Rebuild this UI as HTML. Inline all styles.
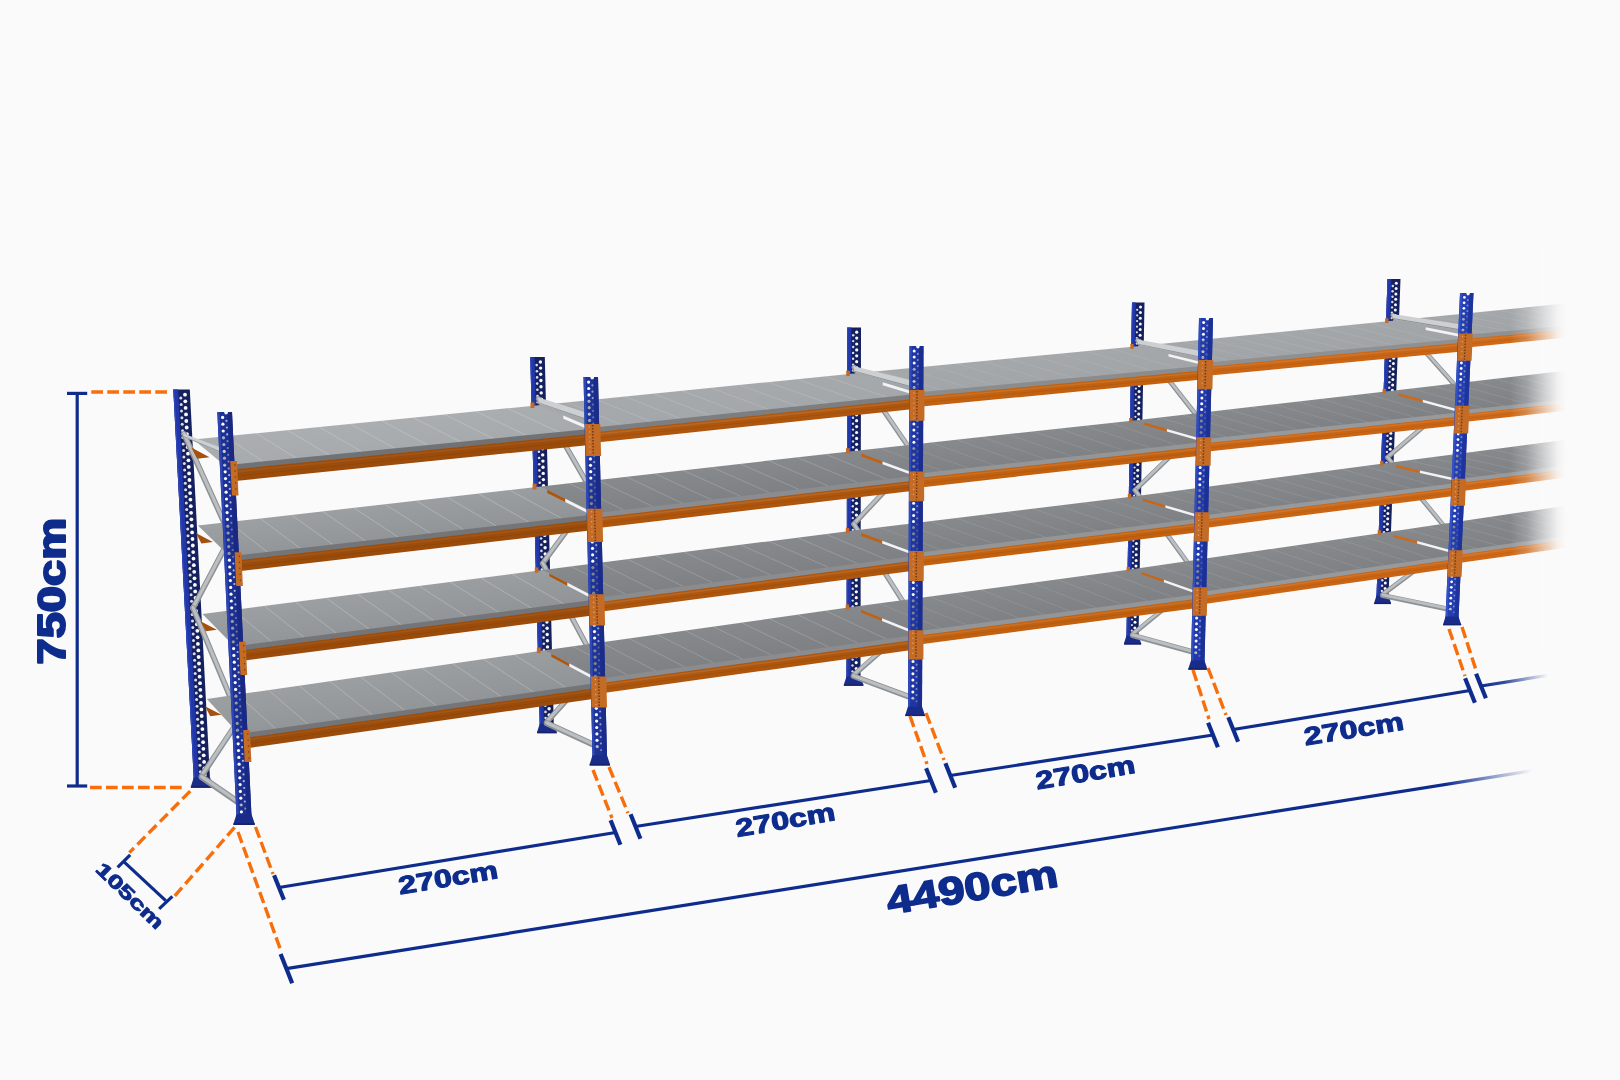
<!DOCTYPE html>
<html><head><meta charset="utf-8"><style>html,body{margin:0;padding:0;background:#fafafa;overflow:hidden}svg{display:block}</style></head>
<body><svg width="1620" height="1080" viewBox="0 0 1620 1080"><defs>
<linearGradient id="fadeR" x1="0" y1="0" x2="1" y2="0">
 <stop offset="0" stop-color="#fafafa" stop-opacity="0"/>
 <stop offset="0.3" stop-color="#fafafa" stop-opacity="0.22"/>
 <stop offset="0.6" stop-color="#fafafa" stop-opacity="0.62"/>
 <stop offset="0.85" stop-color="#fafafa" stop-opacity="0.92"/>
 <stop offset="1" stop-color="#fafafa" stop-opacity="1"/>
</linearGradient>
<linearGradient id="beamG" x1="0" y1="0" x2="0" y2="1">
 <stop offset="0" stop-color="#b05a10"/>
 <stop offset="0.5" stop-color="#a6520c"/>
 <stop offset="1" stop-color="#984a0a"/>
</linearGradient>
<linearGradient id="sh0_0" x1="0" y1="0" x2="0.75" y2="1"><stop offset="0" stop-color="#b0b3b6"/><stop offset="1" stop-color="#a3a6a9"/></linearGradient><linearGradient id="sh0_1" x1="0" y1="0" x2="0.75" y2="1"><stop offset="0" stop-color="#a8abae"/><stop offset="1" stop-color="#888b8e"/></linearGradient><linearGradient id="sh0_2" x1="0" y1="0" x2="0.75" y2="1"><stop offset="0" stop-color="#a8abae"/><stop offset="1" stop-color="#888b8e"/></linearGradient><linearGradient id="sh0_3" x1="0" y1="0" x2="0.75" y2="1"><stop offset="0" stop-color="#a8abae"/><stop offset="1" stop-color="#888b8e"/></linearGradient><linearGradient id="sh1_0" x1="0" y1="0" x2="0.75" y2="1"><stop offset="0" stop-color="#a9acaf"/><stop offset="1" stop-color="#a2a5a8"/></linearGradient><linearGradient id="sh1_1" x1="0" y1="0" x2="0.75" y2="1"><stop offset="0" stop-color="#919497"/><stop offset="1" stop-color="#76787b"/></linearGradient><linearGradient id="sh1_2" x1="0" y1="0" x2="0.75" y2="1"><stop offset="0" stop-color="#919497"/><stop offset="1" stop-color="#76787b"/></linearGradient><linearGradient id="sh1_3" x1="0" y1="0" x2="0.75" y2="1"><stop offset="0" stop-color="#919497"/><stop offset="1" stop-color="#76787b"/></linearGradient><linearGradient id="sh2_0" x1="0" y1="0" x2="0.75" y2="1"><stop offset="0" stop-color="#a8abae"/><stop offset="1" stop-color="#a0a3a6"/></linearGradient><linearGradient id="sh2_1" x1="0" y1="0" x2="0.75" y2="1"><stop offset="0" stop-color="#909396"/><stop offset="1" stop-color="#77797c"/></linearGradient><linearGradient id="sh2_2" x1="0" y1="0" x2="0.75" y2="1"><stop offset="0" stop-color="#909396"/><stop offset="1" stop-color="#77797c"/></linearGradient><linearGradient id="sh2_3" x1="0" y1="0" x2="0.75" y2="1"><stop offset="0" stop-color="#909396"/><stop offset="1" stop-color="#77797c"/></linearGradient><linearGradient id="sh3_0" x1="0" y1="0" x2="0.75" y2="1"><stop offset="0" stop-color="#a7aaad"/><stop offset="1" stop-color="#9fa2a5"/></linearGradient><linearGradient id="sh3_1" x1="0" y1="0" x2="0.75" y2="1"><stop offset="0" stop-color="#8f9295"/><stop offset="1" stop-color="#787a7d"/></linearGradient><linearGradient id="sh3_2" x1="0" y1="0" x2="0.75" y2="1"><stop offset="0" stop-color="#8f9295"/><stop offset="1" stop-color="#787a7d"/></linearGradient><linearGradient id="sh3_3" x1="0" y1="0" x2="0.75" y2="1"><stop offset="0" stop-color="#8f9295"/><stop offset="1" stop-color="#787a7d"/></linearGradient><linearGradient id="sh4_0" x1="0" y1="0" x2="0.75" y2="1"><stop offset="0" stop-color="#a7aaad"/><stop offset="1" stop-color="#9fa2a5"/></linearGradient><linearGradient id="sh4_1" x1="0" y1="0" x2="0.75" y2="1"><stop offset="0" stop-color="#8f9295"/><stop offset="1" stop-color="#787a7d"/></linearGradient><linearGradient id="sh4_2" x1="0" y1="0" x2="0.75" y2="1"><stop offset="0" stop-color="#8f9295"/><stop offset="1" stop-color="#787a7d"/></linearGradient><linearGradient id="sh4_3" x1="0" y1="0" x2="0.75" y2="1"><stop offset="0" stop-color="#8f9295"/><stop offset="1" stop-color="#787a7d"/></linearGradient><mask id="mback" maskUnits="userSpaceOnUse" x="0" y="0" width="1620" height="1080"><rect width="1620" height="1080" fill="#fff"/><circle cx="185" cy="394.7" r="1.9" fill="#000"/><circle cx="180.8" cy="398" r="1.5" fill="#222"/><circle cx="185.3" cy="401.3" r="1.9" fill="#000"/><circle cx="181.2" cy="404.6" r="1.5" fill="#222"/><circle cx="185.6" cy="407.9" r="1.9" fill="#000"/><circle cx="181.5" cy="411.1" r="1.5" fill="#222"/><circle cx="186" cy="414.4" r="1.9" fill="#000"/><circle cx="181.9" cy="417.7" r="1.5" fill="#222"/><circle cx="186.3" cy="421" r="1.9" fill="#000"/><circle cx="182.2" cy="424.2" r="1.5" fill="#222"/><circle cx="186.7" cy="427.5" r="1.9" fill="#000"/><circle cx="182.6" cy="430.8" r="1.5" fill="#222"/><circle cx="187" cy="434.1" r="1.9" fill="#000"/><circle cx="182.9" cy="437.4" r="1.5" fill="#222"/><circle cx="187.3" cy="440.6" r="1.9" fill="#000"/><circle cx="183.2" cy="443.9" r="1.5" fill="#222"/><circle cx="187.7" cy="447.2" r="1.9" fill="#000"/><circle cx="183.6" cy="450.5" r="1.5" fill="#222"/><circle cx="188" cy="453.7" r="1.9" fill="#000"/><circle cx="183.9" cy="457" r="1.5" fill="#222"/><circle cx="188.4" cy="460.3" r="1.9" fill="#000"/><circle cx="184.3" cy="463.6" r="1.5" fill="#222"/><circle cx="188.7" cy="466.9" r="1.9" fill="#000"/><circle cx="184.6" cy="470.1" r="1.5" fill="#222"/><circle cx="189.1" cy="473.4" r="1.9" fill="#000"/><circle cx="185" cy="476.7" r="1.5" fill="#222"/><circle cx="189.4" cy="480" r="1.9" fill="#000"/><circle cx="185.3" cy="483.2" r="1.5" fill="#222"/><circle cx="189.7" cy="486.5" r="1.9" fill="#000"/><circle cx="185.6" cy="489.8" r="1.5" fill="#222"/><circle cx="190.1" cy="493.1" r="1.9" fill="#000"/><circle cx="186" cy="496.4" r="1.5" fill="#222"/><circle cx="190.4" cy="499.6" r="1.9" fill="#000"/><circle cx="186.3" cy="502.9" r="1.5" fill="#222"/><circle cx="190.8" cy="506.2" r="1.9" fill="#000"/><circle cx="186.7" cy="509.5" r="1.5" fill="#222"/><circle cx="191.1" cy="512.8" r="1.9" fill="#000"/><circle cx="187" cy="516" r="1.5" fill="#222"/><circle cx="191.4" cy="519.3" r="1.9" fill="#000"/><circle cx="187.4" cy="522.6" r="1.5" fill="#222"/><circle cx="191.8" cy="525.9" r="1.9" fill="#000"/><circle cx="187.7" cy="529.1" r="1.5" fill="#222"/><circle cx="192.1" cy="532.4" r="1.9" fill="#000"/><circle cx="188" cy="535.7" r="1.5" fill="#222"/><circle cx="192.5" cy="539" r="1.9" fill="#000"/><circle cx="188.4" cy="542.3" r="1.5" fill="#222"/><circle cx="192.8" cy="545.5" r="1.9" fill="#000"/><circle cx="188.7" cy="548.8" r="1.5" fill="#222"/><circle cx="193.2" cy="552.1" r="1.9" fill="#000"/><circle cx="189.1" cy="555.4" r="1.5" fill="#222"/><circle cx="193.5" cy="558.6" r="1.9" fill="#000"/><circle cx="189.4" cy="561.9" r="1.5" fill="#222"/><circle cx="193.8" cy="565.2" r="1.9" fill="#000"/><circle cx="189.8" cy="568.5" r="1.5" fill="#222"/><circle cx="194.2" cy="571.8" r="1.9" fill="#000"/><circle cx="190.1" cy="575" r="1.5" fill="#222"/><circle cx="194.5" cy="578.3" r="1.9" fill="#000"/><circle cx="190.4" cy="581.6" r="1.5" fill="#222"/><circle cx="194.9" cy="584.9" r="1.9" fill="#000"/><circle cx="190.8" cy="588.1" r="1.5" fill="#222"/><circle cx="195.2" cy="591.4" r="1.9" fill="#000"/><circle cx="191.1" cy="594.7" r="1.5" fill="#222"/><circle cx="195.5" cy="598" r="1.9" fill="#000"/><circle cx="191.5" cy="601.3" r="1.5" fill="#222"/><circle cx="195.9" cy="604.5" r="1.9" fill="#000"/><circle cx="191.8" cy="607.8" r="1.5" fill="#222"/><circle cx="196.2" cy="611.1" r="1.9" fill="#000"/><circle cx="192.2" cy="614.4" r="1.5" fill="#222"/><circle cx="196.6" cy="617.6" r="1.9" fill="#000"/><circle cx="192.5" cy="620.9" r="1.5" fill="#222"/><circle cx="196.9" cy="624.2" r="1.9" fill="#000"/><circle cx="192.8" cy="627.5" r="1.5" fill="#222"/><circle cx="197.3" cy="630.8" r="1.9" fill="#000"/><circle cx="193.2" cy="634" r="1.5" fill="#222"/><circle cx="197.6" cy="637.3" r="1.9" fill="#000"/><circle cx="193.5" cy="640.6" r="1.5" fill="#222"/><circle cx="197.9" cy="643.9" r="1.9" fill="#000"/><circle cx="193.9" cy="647.1" r="1.5" fill="#222"/><circle cx="198.3" cy="650.4" r="1.9" fill="#000"/><circle cx="194.2" cy="653.7" r="1.5" fill="#222"/><circle cx="198.6" cy="657" r="1.9" fill="#000"/><circle cx="194.6" cy="660.3" r="1.5" fill="#222"/><circle cx="199" cy="663.5" r="1.9" fill="#000"/><circle cx="194.9" cy="666.8" r="1.5" fill="#222"/><circle cx="199.3" cy="670.1" r="1.9" fill="#000"/><circle cx="195.2" cy="673.4" r="1.5" fill="#222"/><circle cx="199.6" cy="676.7" r="1.9" fill="#000"/><circle cx="195.6" cy="679.9" r="1.5" fill="#222"/><circle cx="200" cy="683.2" r="1.9" fill="#000"/><circle cx="195.9" cy="686.5" r="1.5" fill="#222"/><circle cx="200.3" cy="689.8" r="1.9" fill="#000"/><circle cx="196.3" cy="693" r="1.5" fill="#222"/><circle cx="200.7" cy="696.3" r="1.9" fill="#000"/><circle cx="196.6" cy="699.6" r="1.5" fill="#222"/><circle cx="201" cy="702.9" r="1.9" fill="#000"/><circle cx="197" cy="706.2" r="1.5" fill="#222"/><circle cx="201.4" cy="709.4" r="1.9" fill="#000"/><circle cx="197.3" cy="712.7" r="1.5" fill="#222"/><circle cx="201.7" cy="716" r="1.9" fill="#000"/><circle cx="197.6" cy="719.3" r="1.5" fill="#222"/><circle cx="202" cy="722.5" r="1.9" fill="#000"/><circle cx="198" cy="725.8" r="1.5" fill="#222"/><circle cx="202.4" cy="729.1" r="1.9" fill="#000"/><circle cx="198.3" cy="732.4" r="1.5" fill="#222"/><circle cx="202.7" cy="735.7" r="1.9" fill="#000"/><circle cx="198.7" cy="738.9" r="1.5" fill="#222"/><circle cx="203.1" cy="742.2" r="1.9" fill="#000"/><circle cx="199" cy="745.5" r="1.5" fill="#222"/><circle cx="203.4" cy="748.8" r="1.9" fill="#000"/><circle cx="199.4" cy="752" r="1.5" fill="#222"/><circle cx="203.7" cy="755.3" r="1.9" fill="#000"/><circle cx="199.7" cy="758.6" r="1.5" fill="#222"/><circle cx="204.1" cy="761.9" r="1.9" fill="#000"/><circle cx="200" cy="765.2" r="1.5" fill="#222"/><circle cx="204.4" cy="768.4" r="1.9" fill="#000"/><circle cx="200.4" cy="771.7" r="1.5" fill="#222"/><circle cx="204.8" cy="775" r="1.9" fill="#000"/><circle cx="540.4" cy="362" r="1.7" fill="#000"/><circle cx="536.7" cy="365.1" r="1.3" fill="#222"/><circle cx="540.6" cy="368.1" r="1.7" fill="#000"/><circle cx="536.9" cy="371.2" r="1.3" fill="#222"/><circle cx="540.7" cy="374.3" r="1.7" fill="#000"/><circle cx="537.1" cy="377.4" r="1.3" fill="#222"/><circle cx="540.9" cy="380.5" r="1.7" fill="#000"/><circle cx="537.2" cy="383.6" r="1.3" fill="#222"/><circle cx="541" cy="386.7" r="1.7" fill="#000"/><circle cx="537.4" cy="389.8" r="1.3" fill="#222"/><circle cx="541.2" cy="392.9" r="1.7" fill="#000"/><circle cx="537.5" cy="396" r="1.3" fill="#222"/><circle cx="541.4" cy="399.1" r="1.7" fill="#000"/><circle cx="537.7" cy="402.2" r="1.3" fill="#222"/><circle cx="541.5" cy="405.3" r="1.7" fill="#000"/><circle cx="537.8" cy="408.4" r="1.3" fill="#222"/><circle cx="541.7" cy="411.5" r="1.7" fill="#000"/><circle cx="538" cy="414.6" r="1.3" fill="#222"/><circle cx="541.8" cy="417.7" r="1.7" fill="#000"/><circle cx="538.1" cy="420.8" r="1.3" fill="#222"/><circle cx="542" cy="423.9" r="1.7" fill="#000"/><circle cx="538.3" cy="427" r="1.3" fill="#222"/><circle cx="542.1" cy="430.1" r="1.7" fill="#000"/><circle cx="538.5" cy="433.2" r="1.3" fill="#222"/><circle cx="542.3" cy="436.3" r="1.7" fill="#000"/><circle cx="538.6" cy="439.4" r="1.3" fill="#222"/><circle cx="542.4" cy="442.5" r="1.7" fill="#000"/><circle cx="538.8" cy="445.6" r="1.3" fill="#222"/><circle cx="542.6" cy="448.7" r="1.7" fill="#000"/><circle cx="538.9" cy="451.8" r="1.3" fill="#222"/><circle cx="542.7" cy="454.9" r="1.7" fill="#000"/><circle cx="539.1" cy="458" r="1.3" fill="#222"/><circle cx="542.9" cy="461.1" r="1.7" fill="#000"/><circle cx="539.2" cy="464.2" r="1.3" fill="#222"/><circle cx="543" cy="467.3" r="1.7" fill="#000"/><circle cx="539.4" cy="470.4" r="1.3" fill="#222"/><circle cx="543.2" cy="473.4" r="1.7" fill="#000"/><circle cx="539.6" cy="476.5" r="1.3" fill="#222"/><circle cx="543.4" cy="479.6" r="1.7" fill="#000"/><circle cx="539.7" cy="482.7" r="1.3" fill="#222"/><circle cx="543.5" cy="485.8" r="1.7" fill="#000"/><circle cx="539.9" cy="488.9" r="1.3" fill="#222"/><circle cx="543.7" cy="492" r="1.7" fill="#000"/><circle cx="540" cy="495.1" r="1.3" fill="#222"/><circle cx="543.8" cy="498.2" r="1.7" fill="#000"/><circle cx="540.2" cy="501.3" r="1.3" fill="#222"/><circle cx="544" cy="504.4" r="1.7" fill="#000"/><circle cx="540.3" cy="507.5" r="1.3" fill="#222"/><circle cx="544.1" cy="510.6" r="1.7" fill="#000"/><circle cx="540.5" cy="513.7" r="1.3" fill="#222"/><circle cx="544.3" cy="516.8" r="1.7" fill="#000"/><circle cx="540.6" cy="519.9" r="1.3" fill="#222"/><circle cx="544.4" cy="523" r="1.7" fill="#000"/><circle cx="540.8" cy="526.1" r="1.3" fill="#222"/><circle cx="544.6" cy="529.2" r="1.7" fill="#000"/><circle cx="541" cy="532.3" r="1.3" fill="#222"/><circle cx="544.7" cy="535.4" r="1.7" fill="#000"/><circle cx="541.1" cy="538.5" r="1.3" fill="#222"/><circle cx="544.9" cy="541.6" r="1.7" fill="#000"/><circle cx="541.3" cy="544.7" r="1.3" fill="#222"/><circle cx="545.1" cy="547.8" r="1.7" fill="#000"/><circle cx="541.4" cy="550.9" r="1.3" fill="#222"/><circle cx="545.2" cy="554" r="1.7" fill="#000"/><circle cx="541.6" cy="557.1" r="1.3" fill="#222"/><circle cx="545.4" cy="560.2" r="1.7" fill="#000"/><circle cx="541.7" cy="563.3" r="1.3" fill="#222"/><circle cx="545.5" cy="566.4" r="1.7" fill="#000"/><circle cx="541.9" cy="569.5" r="1.3" fill="#222"/><circle cx="545.7" cy="572.6" r="1.7" fill="#000"/><circle cx="542.1" cy="575.7" r="1.3" fill="#222"/><circle cx="545.8" cy="578.7" r="1.7" fill="#000"/><circle cx="542.2" cy="581.8" r="1.3" fill="#222"/><circle cx="546" cy="584.9" r="1.7" fill="#000"/><circle cx="542.4" cy="588" r="1.3" fill="#222"/><circle cx="546.1" cy="591.1" r="1.7" fill="#000"/><circle cx="542.5" cy="594.2" r="1.3" fill="#222"/><circle cx="546.3" cy="597.3" r="1.7" fill="#000"/><circle cx="542.7" cy="600.4" r="1.3" fill="#222"/><circle cx="546.4" cy="603.5" r="1.7" fill="#000"/><circle cx="542.8" cy="606.6" r="1.3" fill="#222"/><circle cx="546.6" cy="609.7" r="1.7" fill="#000"/><circle cx="543" cy="612.8" r="1.3" fill="#222"/><circle cx="546.7" cy="615.9" r="1.7" fill="#000"/><circle cx="543.1" cy="619" r="1.3" fill="#222"/><circle cx="546.9" cy="622.1" r="1.7" fill="#000"/><circle cx="543.3" cy="625.2" r="1.3" fill="#222"/><circle cx="547.1" cy="628.3" r="1.7" fill="#000"/><circle cx="543.5" cy="631.4" r="1.3" fill="#222"/><circle cx="547.2" cy="634.5" r="1.7" fill="#000"/><circle cx="543.6" cy="637.6" r="1.3" fill="#222"/><circle cx="547.4" cy="640.7" r="1.7" fill="#000"/><circle cx="543.8" cy="643.8" r="1.3" fill="#222"/><circle cx="547.5" cy="646.9" r="1.7" fill="#000"/><circle cx="543.9" cy="650" r="1.3" fill="#222"/><circle cx="547.7" cy="653.1" r="1.7" fill="#000"/><circle cx="544.1" cy="656.2" r="1.3" fill="#222"/><circle cx="547.8" cy="659.3" r="1.7" fill="#000"/><circle cx="544.2" cy="662.4" r="1.3" fill="#222"/><circle cx="548" cy="665.5" r="1.7" fill="#000"/><circle cx="544.4" cy="668.6" r="1.3" fill="#222"/><circle cx="548.1" cy="671.7" r="1.7" fill="#000"/><circle cx="544.6" cy="674.8" r="1.3" fill="#222"/><circle cx="548.3" cy="677.9" r="1.7" fill="#000"/><circle cx="544.7" cy="680.9" r="1.3" fill="#222"/><circle cx="548.4" cy="684" r="1.7" fill="#000"/><circle cx="544.9" cy="687.1" r="1.3" fill="#222"/><circle cx="548.6" cy="690.2" r="1.7" fill="#000"/><circle cx="545" cy="693.3" r="1.3" fill="#222"/><circle cx="548.7" cy="696.4" r="1.7" fill="#000"/><circle cx="545.2" cy="699.5" r="1.3" fill="#222"/><circle cx="548.9" cy="702.6" r="1.7" fill="#000"/><circle cx="545.3" cy="705.7" r="1.3" fill="#222"/><circle cx="549.1" cy="708.8" r="1.7" fill="#000"/><circle cx="545.5" cy="711.9" r="1.3" fill="#222"/><circle cx="549.2" cy="715" r="1.7" fill="#000"/><circle cx="545.6" cy="718.1" r="1.3" fill="#222"/><circle cx="856.7" cy="332.2" r="1.6" fill="#000"/><circle cx="853.2" cy="335.2" r="1.2" fill="#222"/><circle cx="856.7" cy="338.1" r="1.6" fill="#000"/><circle cx="853.2" cy="341.1" r="1.2" fill="#222"/><circle cx="856.7" cy="344" r="1.6" fill="#000"/><circle cx="853.2" cy="347" r="1.2" fill="#222"/><circle cx="856.7" cy="349.9" r="1.6" fill="#000"/><circle cx="853.1" cy="352.9" r="1.2" fill="#222"/><circle cx="856.7" cy="355.8" r="1.6" fill="#000"/><circle cx="853.1" cy="358.8" r="1.2" fill="#222"/><circle cx="856.7" cy="361.7" r="1.6" fill="#000"/><circle cx="853.1" cy="364.7" r="1.2" fill="#222"/><circle cx="856.7" cy="367.6" r="1.6" fill="#000"/><circle cx="853.1" cy="370.6" r="1.2" fill="#222"/><circle cx="856.7" cy="373.5" r="1.6" fill="#000"/><circle cx="853.1" cy="376.5" r="1.2" fill="#222"/><circle cx="856.7" cy="379.4" r="1.6" fill="#000"/><circle cx="853.1" cy="382.4" r="1.2" fill="#222"/><circle cx="856.7" cy="385.3" r="1.6" fill="#000"/><circle cx="853.1" cy="388.3" r="1.2" fill="#222"/><circle cx="856.6" cy="391.2" r="1.6" fill="#000"/><circle cx="853.1" cy="394.2" r="1.2" fill="#222"/><circle cx="856.6" cy="397.1" r="1.6" fill="#000"/><circle cx="853.1" cy="400.1" r="1.2" fill="#222"/><circle cx="856.6" cy="403" r="1.6" fill="#000"/><circle cx="853" cy="406" r="1.2" fill="#222"/><circle cx="856.6" cy="408.9" r="1.6" fill="#000"/><circle cx="853" cy="411.9" r="1.2" fill="#222"/><circle cx="856.6" cy="414.8" r="1.6" fill="#000"/><circle cx="853" cy="417.8" r="1.2" fill="#222"/><circle cx="856.6" cy="420.7" r="1.6" fill="#000"/><circle cx="853" cy="423.7" r="1.2" fill="#222"/><circle cx="856.6" cy="426.6" r="1.6" fill="#000"/><circle cx="853" cy="429.6" r="1.2" fill="#222"/><circle cx="856.6" cy="432.5" r="1.6" fill="#000"/><circle cx="853" cy="435.5" r="1.2" fill="#222"/><circle cx="856.6" cy="438.4" r="1.6" fill="#000"/><circle cx="853" cy="441.4" r="1.2" fill="#222"/><circle cx="856.6" cy="444.3" r="1.6" fill="#000"/><circle cx="853" cy="447.3" r="1.2" fill="#222"/><circle cx="856.5" cy="450.2" r="1.6" fill="#000"/><circle cx="853" cy="453.2" r="1.2" fill="#222"/><circle cx="856.5" cy="456.1" r="1.6" fill="#000"/><circle cx="852.9" cy="459.1" r="1.2" fill="#222"/><circle cx="856.5" cy="462" r="1.6" fill="#000"/><circle cx="852.9" cy="465" r="1.2" fill="#222"/><circle cx="856.5" cy="467.9" r="1.6" fill="#000"/><circle cx="852.9" cy="470.9" r="1.2" fill="#222"/><circle cx="856.5" cy="473.8" r="1.6" fill="#000"/><circle cx="852.9" cy="476.8" r="1.2" fill="#222"/><circle cx="856.5" cy="479.7" r="1.6" fill="#000"/><circle cx="852.9" cy="482.7" r="1.2" fill="#222"/><circle cx="856.5" cy="485.6" r="1.6" fill="#000"/><circle cx="852.9" cy="488.6" r="1.2" fill="#222"/><circle cx="856.5" cy="491.5" r="1.6" fill="#000"/><circle cx="852.9" cy="494.5" r="1.2" fill="#222"/><circle cx="856.5" cy="497.4" r="1.6" fill="#000"/><circle cx="852.9" cy="500.4" r="1.2" fill="#222"/><circle cx="856.5" cy="503.3" r="1.6" fill="#000"/><circle cx="852.8" cy="506.3" r="1.2" fill="#222"/><circle cx="856.4" cy="509.2" r="1.6" fill="#000"/><circle cx="852.8" cy="512.2" r="1.2" fill="#222"/><circle cx="856.4" cy="515.1" r="1.6" fill="#000"/><circle cx="852.8" cy="518.1" r="1.2" fill="#222"/><circle cx="856.4" cy="521" r="1.6" fill="#000"/><circle cx="852.8" cy="524" r="1.2" fill="#222"/><circle cx="856.4" cy="526.9" r="1.6" fill="#000"/><circle cx="852.8" cy="529.9" r="1.2" fill="#222"/><circle cx="856.4" cy="532.8" r="1.6" fill="#000"/><circle cx="852.8" cy="535.8" r="1.2" fill="#222"/><circle cx="856.4" cy="538.7" r="1.6" fill="#000"/><circle cx="852.8" cy="541.7" r="1.2" fill="#222"/><circle cx="856.4" cy="544.6" r="1.6" fill="#000"/><circle cx="852.8" cy="547.6" r="1.2" fill="#222"/><circle cx="856.4" cy="550.5" r="1.6" fill="#000"/><circle cx="852.8" cy="553.5" r="1.2" fill="#222"/><circle cx="856.4" cy="556.4" r="1.6" fill="#000"/><circle cx="852.7" cy="559.4" r="1.2" fill="#222"/><circle cx="856.4" cy="562.3" r="1.6" fill="#000"/><circle cx="852.7" cy="565.3" r="1.2" fill="#222"/><circle cx="856.3" cy="568.2" r="1.6" fill="#000"/><circle cx="852.7" cy="571.1" r="1.2" fill="#222"/><circle cx="856.3" cy="574.1" r="1.6" fill="#000"/><circle cx="852.7" cy="577" r="1.2" fill="#222"/><circle cx="856.3" cy="580" r="1.6" fill="#000"/><circle cx="852.7" cy="582.9" r="1.2" fill="#222"/><circle cx="856.3" cy="585.9" r="1.6" fill="#000"/><circle cx="852.7" cy="588.8" r="1.2" fill="#222"/><circle cx="856.3" cy="591.8" r="1.6" fill="#000"/><circle cx="852.7" cy="594.7" r="1.2" fill="#222"/><circle cx="856.3" cy="597.7" r="1.6" fill="#000"/><circle cx="852.7" cy="600.6" r="1.2" fill="#222"/><circle cx="856.3" cy="603.6" r="1.6" fill="#000"/><circle cx="852.7" cy="606.5" r="1.2" fill="#222"/><circle cx="856.3" cy="609.5" r="1.6" fill="#000"/><circle cx="852.6" cy="612.4" r="1.2" fill="#222"/><circle cx="856.3" cy="615.4" r="1.6" fill="#000"/><circle cx="852.6" cy="618.3" r="1.2" fill="#222"/><circle cx="856.3" cy="621.3" r="1.6" fill="#000"/><circle cx="852.6" cy="624.2" r="1.2" fill="#222"/><circle cx="856.2" cy="627.2" r="1.6" fill="#000"/><circle cx="852.6" cy="630.1" r="1.2" fill="#222"/><circle cx="856.2" cy="633.1" r="1.6" fill="#000"/><circle cx="852.6" cy="636" r="1.2" fill="#222"/><circle cx="856.2" cy="639" r="1.6" fill="#000"/><circle cx="852.6" cy="641.9" r="1.2" fill="#222"/><circle cx="856.2" cy="644.9" r="1.6" fill="#000"/><circle cx="852.6" cy="647.8" r="1.2" fill="#222"/><circle cx="856.2" cy="650.8" r="1.6" fill="#000"/><circle cx="852.6" cy="653.7" r="1.2" fill="#222"/><circle cx="856.2" cy="656.7" r="1.6" fill="#000"/><circle cx="852.6" cy="659.6" r="1.2" fill="#222"/><circle cx="856.2" cy="662.6" r="1.6" fill="#000"/><circle cx="852.5" cy="665.5" r="1.2" fill="#222"/><circle cx="856.2" cy="668.5" r="1.6" fill="#000"/><circle cx="852.5" cy="671.4" r="1.2" fill="#222"/><circle cx="1140.5" cy="307" r="1.5" fill="#000"/><circle cx="1137.2" cy="309.8" r="1.1" fill="#222"/><circle cx="1140.4" cy="312.6" r="1.5" fill="#000"/><circle cx="1137.2" cy="315.4" r="1.1" fill="#222"/><circle cx="1140.3" cy="318.3" r="1.5" fill="#000"/><circle cx="1137.1" cy="321.1" r="1.1" fill="#222"/><circle cx="1140.3" cy="323.9" r="1.5" fill="#000"/><circle cx="1137" cy="326.7" r="1.1" fill="#222"/><circle cx="1140.2" cy="329.5" r="1.5" fill="#000"/><circle cx="1136.9" cy="332.3" r="1.1" fill="#222"/><circle cx="1140.1" cy="335.2" r="1.5" fill="#000"/><circle cx="1136.8" cy="338" r="1.1" fill="#222"/><circle cx="1140" cy="340.8" r="1.5" fill="#000"/><circle cx="1136.7" cy="343.6" r="1.1" fill="#222"/><circle cx="1139.9" cy="346.4" r="1.5" fill="#000"/><circle cx="1136.6" cy="349.2" r="1.1" fill="#222"/><circle cx="1139.8" cy="352" r="1.5" fill="#000"/><circle cx="1136.5" cy="354.9" r="1.1" fill="#222"/><circle cx="1139.7" cy="357.7" r="1.5" fill="#000"/><circle cx="1136.4" cy="360.5" r="1.1" fill="#222"/><circle cx="1139.6" cy="363.3" r="1.5" fill="#000"/><circle cx="1136.3" cy="366.1" r="1.1" fill="#222"/><circle cx="1139.5" cy="368.9" r="1.5" fill="#000"/><circle cx="1136.2" cy="371.8" r="1.1" fill="#222"/><circle cx="1139.4" cy="374.6" r="1.5" fill="#000"/><circle cx="1136.1" cy="377.4" r="1.1" fill="#222"/><circle cx="1139.3" cy="380.2" r="1.5" fill="#000"/><circle cx="1136" cy="383" r="1.1" fill="#222"/><circle cx="1139.2" cy="385.8" r="1.5" fill="#000"/><circle cx="1135.9" cy="388.6" r="1.1" fill="#222"/><circle cx="1139.1" cy="391.5" r="1.5" fill="#000"/><circle cx="1135.8" cy="394.3" r="1.1" fill="#222"/><circle cx="1139" cy="397.1" r="1.5" fill="#000"/><circle cx="1135.7" cy="399.9" r="1.1" fill="#222"/><circle cx="1138.9" cy="402.7" r="1.5" fill="#000"/><circle cx="1135.6" cy="405.5" r="1.1" fill="#222"/><circle cx="1138.8" cy="408.3" r="1.5" fill="#000"/><circle cx="1135.5" cy="411.2" r="1.1" fill="#222"/><circle cx="1138.7" cy="414" r="1.5" fill="#000"/><circle cx="1135.4" cy="416.8" r="1.1" fill="#222"/><circle cx="1138.6" cy="419.6" r="1.5" fill="#000"/><circle cx="1135.3" cy="422.4" r="1.1" fill="#222"/><circle cx="1138.5" cy="425.2" r="1.5" fill="#000"/><circle cx="1135.2" cy="428.1" r="1.1" fill="#222"/><circle cx="1138.4" cy="430.9" r="1.5" fill="#000"/><circle cx="1135.1" cy="433.7" r="1.1" fill="#222"/><circle cx="1138.3" cy="436.5" r="1.5" fill="#000"/><circle cx="1135" cy="439.3" r="1.1" fill="#222"/><circle cx="1138.2" cy="442.1" r="1.5" fill="#000"/><circle cx="1134.9" cy="444.9" r="1.1" fill="#222"/><circle cx="1138.1" cy="447.8" r="1.5" fill="#000"/><circle cx="1134.8" cy="450.6" r="1.1" fill="#222"/><circle cx="1138" cy="453.4" r="1.5" fill="#000"/><circle cx="1134.7" cy="456.2" r="1.1" fill="#222"/><circle cx="1137.9" cy="459" r="1.5" fill="#000"/><circle cx="1134.7" cy="461.8" r="1.1" fill="#222"/><circle cx="1137.8" cy="464.6" r="1.5" fill="#000"/><circle cx="1134.6" cy="467.5" r="1.1" fill="#222"/><circle cx="1137.7" cy="470.3" r="1.5" fill="#000"/><circle cx="1134.5" cy="473.1" r="1.1" fill="#222"/><circle cx="1137.6" cy="475.9" r="1.5" fill="#000"/><circle cx="1134.4" cy="478.7" r="1.1" fill="#222"/><circle cx="1137.5" cy="481.5" r="1.5" fill="#000"/><circle cx="1134.3" cy="484.4" r="1.1" fill="#222"/><circle cx="1137.4" cy="487.2" r="1.5" fill="#000"/><circle cx="1134.2" cy="490" r="1.1" fill="#222"/><circle cx="1137.3" cy="492.8" r="1.5" fill="#000"/><circle cx="1134.1" cy="495.6" r="1.1" fill="#222"/><circle cx="1137.2" cy="498.4" r="1.5" fill="#000"/><circle cx="1134" cy="501.2" r="1.1" fill="#222"/><circle cx="1137.1" cy="504.1" r="1.5" fill="#000"/><circle cx="1133.9" cy="506.9" r="1.1" fill="#222"/><circle cx="1137" cy="509.7" r="1.5" fill="#000"/><circle cx="1133.8" cy="512.5" r="1.1" fill="#222"/><circle cx="1136.9" cy="515.3" r="1.5" fill="#000"/><circle cx="1133.7" cy="518.1" r="1.1" fill="#222"/><circle cx="1136.8" cy="521" r="1.5" fill="#000"/><circle cx="1133.6" cy="523.8" r="1.1" fill="#222"/><circle cx="1136.7" cy="526.6" r="1.5" fill="#000"/><circle cx="1133.5" cy="529.4" r="1.1" fill="#222"/><circle cx="1136.6" cy="532.2" r="1.5" fill="#000"/><circle cx="1133.4" cy="535" r="1.1" fill="#222"/><circle cx="1136.5" cy="537.8" r="1.5" fill="#000"/><circle cx="1133.3" cy="540.7" r="1.1" fill="#222"/><circle cx="1136.4" cy="543.5" r="1.5" fill="#000"/><circle cx="1133.2" cy="546.3" r="1.1" fill="#222"/><circle cx="1136.3" cy="549.1" r="1.5" fill="#000"/><circle cx="1133.1" cy="551.9" r="1.1" fill="#222"/><circle cx="1136.2" cy="554.7" r="1.5" fill="#000"/><circle cx="1133" cy="557.5" r="1.1" fill="#222"/><circle cx="1136.1" cy="560.4" r="1.5" fill="#000"/><circle cx="1132.9" cy="563.2" r="1.1" fill="#222"/><circle cx="1136" cy="566" r="1.5" fill="#000"/><circle cx="1132.8" cy="568.8" r="1.1" fill="#222"/><circle cx="1135.9" cy="571.6" r="1.5" fill="#000"/><circle cx="1132.7" cy="574.4" r="1.1" fill="#222"/><circle cx="1135.8" cy="577.3" r="1.5" fill="#000"/><circle cx="1132.6" cy="580.1" r="1.1" fill="#222"/><circle cx="1135.7" cy="582.9" r="1.5" fill="#000"/><circle cx="1132.5" cy="585.7" r="1.1" fill="#222"/><circle cx="1135.6" cy="588.5" r="1.5" fill="#000"/><circle cx="1132.4" cy="591.3" r="1.1" fill="#222"/><circle cx="1135.5" cy="594.1" r="1.5" fill="#000"/><circle cx="1132.3" cy="597" r="1.1" fill="#222"/><circle cx="1135.4" cy="599.8" r="1.5" fill="#000"/><circle cx="1132.2" cy="602.6" r="1.1" fill="#222"/><circle cx="1135.3" cy="605.4" r="1.5" fill="#000"/><circle cx="1132.2" cy="608.2" r="1.1" fill="#222"/><circle cx="1135.2" cy="611" r="1.5" fill="#000"/><circle cx="1132.1" cy="613.8" r="1.1" fill="#222"/><circle cx="1135.1" cy="616.7" r="1.5" fill="#000"/><circle cx="1132" cy="619.5" r="1.1" fill="#222"/><circle cx="1135" cy="622.3" r="1.5" fill="#000"/><circle cx="1131.9" cy="625.1" r="1.1" fill="#222"/><circle cx="1134.9" cy="627.9" r="1.5" fill="#000"/><circle cx="1131.8" cy="630.7" r="1.1" fill="#222"/><circle cx="1396.3" cy="283.3" r="1.5" fill="#000"/><circle cx="1392.8" cy="286" r="1.2" fill="#222"/><circle cx="1396.1" cy="288.6" r="1.5" fill="#000"/><circle cx="1392.6" cy="291.3" r="1.2" fill="#222"/><circle cx="1395.9" cy="294" r="1.5" fill="#000"/><circle cx="1392.5" cy="296.7" r="1.2" fill="#222"/><circle cx="1395.7" cy="299.3" r="1.5" fill="#000"/><circle cx="1392.3" cy="302" r="1.2" fill="#222"/><circle cx="1395.5" cy="304.7" r="1.5" fill="#000"/><circle cx="1392.1" cy="307.4" r="1.2" fill="#222"/><circle cx="1395.3" cy="310" r="1.5" fill="#000"/><circle cx="1391.9" cy="312.7" r="1.2" fill="#222"/><circle cx="1395.1" cy="315.4" r="1.5" fill="#000"/><circle cx="1391.7" cy="318.1" r="1.2" fill="#222"/><circle cx="1394.9" cy="320.7" r="1.5" fill="#000"/><circle cx="1391.5" cy="323.4" r="1.2" fill="#222"/><circle cx="1394.7" cy="326.1" r="1.5" fill="#000"/><circle cx="1391.3" cy="328.8" r="1.2" fill="#222"/><circle cx="1394.5" cy="331.5" r="1.5" fill="#000"/><circle cx="1391.1" cy="334.1" r="1.2" fill="#222"/><circle cx="1394.3" cy="336.8" r="1.5" fill="#000"/><circle cx="1390.9" cy="339.5" r="1.2" fill="#222"/><circle cx="1394.1" cy="342.2" r="1.5" fill="#000"/><circle cx="1390.7" cy="344.8" r="1.2" fill="#222"/><circle cx="1394" cy="347.5" r="1.5" fill="#000"/><circle cx="1390.5" cy="350.2" r="1.2" fill="#222"/><circle cx="1393.8" cy="352.9" r="1.5" fill="#000"/><circle cx="1390.3" cy="355.5" r="1.2" fill="#222"/><circle cx="1393.6" cy="358.2" r="1.5" fill="#000"/><circle cx="1390.1" cy="360.9" r="1.2" fill="#222"/><circle cx="1393.4" cy="363.6" r="1.5" fill="#000"/><circle cx="1390" cy="366.2" r="1.2" fill="#222"/><circle cx="1393.2" cy="368.9" r="1.5" fill="#000"/><circle cx="1389.8" cy="371.6" r="1.2" fill="#222"/><circle cx="1393" cy="374.3" r="1.5" fill="#000"/><circle cx="1389.6" cy="377" r="1.2" fill="#222"/><circle cx="1392.8" cy="379.6" r="1.5" fill="#000"/><circle cx="1389.4" cy="382.3" r="1.2" fill="#222"/><circle cx="1392.6" cy="385" r="1.5" fill="#000"/><circle cx="1389.2" cy="387.7" r="1.2" fill="#222"/><circle cx="1392.4" cy="390.3" r="1.5" fill="#000"/><circle cx="1389" cy="393" r="1.2" fill="#222"/><circle cx="1392.2" cy="395.7" r="1.5" fill="#000"/><circle cx="1388.8" cy="398.4" r="1.2" fill="#222"/><circle cx="1392" cy="401" r="1.5" fill="#000"/><circle cx="1388.6" cy="403.7" r="1.2" fill="#222"/><circle cx="1391.8" cy="406.4" r="1.5" fill="#000"/><circle cx="1388.4" cy="409.1" r="1.2" fill="#222"/><circle cx="1391.6" cy="411.7" r="1.5" fill="#000"/><circle cx="1388.2" cy="414.4" r="1.2" fill="#222"/><circle cx="1391.4" cy="417.1" r="1.5" fill="#000"/><circle cx="1388" cy="419.8" r="1.2" fill="#222"/><circle cx="1391.2" cy="422.4" r="1.5" fill="#000"/><circle cx="1387.8" cy="425.1" r="1.2" fill="#222"/><circle cx="1391" cy="427.8" r="1.5" fill="#000"/><circle cx="1387.6" cy="430.5" r="1.2" fill="#222"/><circle cx="1390.8" cy="433.2" r="1.5" fill="#000"/><circle cx="1387.5" cy="435.8" r="1.2" fill="#222"/><circle cx="1390.6" cy="438.5" r="1.5" fill="#000"/><circle cx="1387.3" cy="441.2" r="1.2" fill="#222"/><circle cx="1390.4" cy="443.9" r="1.5" fill="#000"/><circle cx="1387.1" cy="446.5" r="1.2" fill="#222"/><circle cx="1390.2" cy="449.2" r="1.5" fill="#000"/><circle cx="1386.9" cy="451.9" r="1.2" fill="#222"/><circle cx="1390" cy="454.6" r="1.5" fill="#000"/><circle cx="1386.7" cy="457.2" r="1.2" fill="#222"/><circle cx="1389.8" cy="459.9" r="1.5" fill="#000"/><circle cx="1386.5" cy="462.6" r="1.2" fill="#222"/><circle cx="1389.6" cy="465.3" r="1.5" fill="#000"/><circle cx="1386.3" cy="467.9" r="1.2" fill="#222"/><circle cx="1389.4" cy="470.6" r="1.5" fill="#000"/><circle cx="1386.1" cy="473.3" r="1.2" fill="#222"/><circle cx="1389.2" cy="476" r="1.5" fill="#000"/><circle cx="1385.9" cy="478.6" r="1.2" fill="#222"/><circle cx="1389" cy="481.3" r="1.5" fill="#000"/><circle cx="1385.7" cy="484" r="1.2" fill="#222"/><circle cx="1388.8" cy="486.7" r="1.5" fill="#000"/><circle cx="1385.5" cy="489.4" r="1.2" fill="#222"/><circle cx="1388.6" cy="492" r="1.5" fill="#000"/><circle cx="1385.3" cy="494.7" r="1.2" fill="#222"/><circle cx="1388.4" cy="497.4" r="1.5" fill="#000"/><circle cx="1385.1" cy="500.1" r="1.2" fill="#222"/><circle cx="1388.2" cy="502.7" r="1.5" fill="#000"/><circle cx="1385" cy="505.4" r="1.2" fill="#222"/><circle cx="1388" cy="508.1" r="1.5" fill="#000"/><circle cx="1384.8" cy="510.8" r="1.2" fill="#222"/><circle cx="1387.9" cy="513.4" r="1.5" fill="#000"/><circle cx="1384.6" cy="516.1" r="1.2" fill="#222"/><circle cx="1387.7" cy="518.8" r="1.5" fill="#000"/><circle cx="1384.4" cy="521.5" r="1.2" fill="#222"/><circle cx="1387.5" cy="524.1" r="1.5" fill="#000"/><circle cx="1384.2" cy="526.8" r="1.2" fill="#222"/><circle cx="1387.3" cy="529.5" r="1.5" fill="#000"/><circle cx="1384" cy="532.2" r="1.2" fill="#222"/><circle cx="1387.1" cy="534.8" r="1.5" fill="#000"/><circle cx="1383.8" cy="537.5" r="1.2" fill="#222"/><circle cx="1386.9" cy="540.2" r="1.5" fill="#000"/><circle cx="1383.6" cy="542.9" r="1.2" fill="#222"/><circle cx="1386.7" cy="545.6" r="1.5" fill="#000"/><circle cx="1383.4" cy="548.2" r="1.2" fill="#222"/><circle cx="1386.5" cy="550.9" r="1.5" fill="#000"/><circle cx="1383.2" cy="553.6" r="1.2" fill="#222"/><circle cx="1386.3" cy="556.3" r="1.5" fill="#000"/><circle cx="1383" cy="558.9" r="1.2" fill="#222"/><circle cx="1386.1" cy="561.6" r="1.5" fill="#000"/><circle cx="1382.8" cy="564.3" r="1.2" fill="#222"/><circle cx="1385.9" cy="567" r="1.5" fill="#000"/><circle cx="1382.6" cy="569.6" r="1.2" fill="#222"/><circle cx="1385.7" cy="572.3" r="1.5" fill="#000"/><circle cx="1382.5" cy="575" r="1.2" fill="#222"/><circle cx="1385.5" cy="577.7" r="1.5" fill="#000"/><circle cx="1382.3" cy="580.3" r="1.2" fill="#222"/><circle cx="1385.3" cy="583" r="1.5" fill="#000"/><circle cx="1382.1" cy="585.7" r="1.2" fill="#222"/><circle cx="1385.1" cy="588.4" r="1.5" fill="#000"/><circle cx="1381.9" cy="591" r="1.2" fill="#222"/></mask><mask id="mfront" maskUnits="userSpaceOnUse" x="0" y="0" width="1620" height="1080"><rect width="1620" height="1080" fill="#fff"/><circle cx="222.6" cy="417.4" r="1.6" fill="#000"/><circle cx="226.5" cy="420.8" r="1.1" fill="#555"/><circle cx="222.9" cy="424.2" r="1.6" fill="#000"/><circle cx="226.9" cy="427.6" r="1.1" fill="#555"/><circle cx="223.2" cy="431" r="1.6" fill="#000"/><circle cx="227.2" cy="434.4" r="1.1" fill="#555"/><circle cx="223.5" cy="437.8" r="1.6" fill="#000"/><circle cx="227.5" cy="441.2" r="1.1" fill="#555"/><circle cx="223.9" cy="444.6" r="1.6" fill="#000"/><circle cx="227.8" cy="448" r="1.1" fill="#555"/><circle cx="224.2" cy="451.4" r="1.6" fill="#000"/><circle cx="228.2" cy="454.8" r="1.1" fill="#555"/><circle cx="224.5" cy="458.2" r="1.6" fill="#000"/><circle cx="228.5" cy="461.6" r="1.1" fill="#555"/><circle cx="224.8" cy="465" r="1.6" fill="#000"/><circle cx="228.8" cy="468.4" r="1.1" fill="#555"/><circle cx="225.2" cy="471.8" r="1.6" fill="#000"/><circle cx="229.2" cy="475.2" r="1.1" fill="#555"/><circle cx="225.5" cy="478.6" r="1.6" fill="#000"/><circle cx="229.5" cy="482" r="1.1" fill="#555"/><circle cx="225.8" cy="485.4" r="1.6" fill="#000"/><circle cx="229.8" cy="488.8" r="1.1" fill="#555"/><circle cx="226.1" cy="492.2" r="1.6" fill="#000"/><circle cx="230.1" cy="495.6" r="1.1" fill="#555"/><circle cx="226.5" cy="499" r="1.6" fill="#000"/><circle cx="230.5" cy="502.4" r="1.1" fill="#555"/><circle cx="226.8" cy="505.8" r="1.6" fill="#000"/><circle cx="230.8" cy="509.2" r="1.1" fill="#555"/><circle cx="227.1" cy="512.6" r="1.6" fill="#000"/><circle cx="231.1" cy="516" r="1.1" fill="#555"/><circle cx="227.4" cy="519.4" r="1.6" fill="#000"/><circle cx="231.4" cy="522.8" r="1.1" fill="#555"/><circle cx="227.8" cy="526.2" r="1.6" fill="#000"/><circle cx="231.8" cy="529.6" r="1.1" fill="#555"/><circle cx="228.1" cy="533" r="1.6" fill="#000"/><circle cx="232.1" cy="536.4" r="1.1" fill="#555"/><circle cx="228.4" cy="539.8" r="1.6" fill="#000"/><circle cx="232.4" cy="543.2" r="1.1" fill="#555"/><circle cx="228.7" cy="546.6" r="1.6" fill="#000"/><circle cx="232.7" cy="550" r="1.1" fill="#555"/><circle cx="229.1" cy="553.4" r="1.6" fill="#000"/><circle cx="233.1" cy="556.8" r="1.1" fill="#555"/><circle cx="229.4" cy="560.2" r="1.6" fill="#000"/><circle cx="233.4" cy="563.6" r="1.1" fill="#555"/><circle cx="229.7" cy="567" r="1.6" fill="#000"/><circle cx="233.7" cy="570.4" r="1.1" fill="#555"/><circle cx="230" cy="573.8" r="1.6" fill="#000"/><circle cx="234" cy="577.2" r="1.1" fill="#555"/><circle cx="230.4" cy="580.6" r="1.6" fill="#000"/><circle cx="234.4" cy="584" r="1.1" fill="#555"/><circle cx="230.7" cy="587.4" r="1.6" fill="#000"/><circle cx="234.7" cy="590.8" r="1.1" fill="#555"/><circle cx="231" cy="594.2" r="1.6" fill="#000"/><circle cx="235" cy="597.6" r="1.1" fill="#555"/><circle cx="231.3" cy="601" r="1.6" fill="#000"/><circle cx="235.4" cy="604.4" r="1.1" fill="#555"/><circle cx="231.7" cy="607.8" r="1.6" fill="#000"/><circle cx="235.7" cy="611.2" r="1.1" fill="#555"/><circle cx="232" cy="614.6" r="1.6" fill="#000"/><circle cx="236" cy="618" r="1.1" fill="#555"/><circle cx="232.3" cy="621.4" r="1.6" fill="#000"/><circle cx="236.3" cy="624.8" r="1.1" fill="#555"/><circle cx="232.6" cy="628.2" r="1.6" fill="#000"/><circle cx="236.7" cy="631.6" r="1.1" fill="#555"/><circle cx="233" cy="635" r="1.6" fill="#000"/><circle cx="237" cy="638.4" r="1.1" fill="#555"/><circle cx="233.3" cy="641.8" r="1.6" fill="#000"/><circle cx="237.3" cy="645.2" r="1.1" fill="#555"/><circle cx="233.6" cy="648.6" r="1.6" fill="#000"/><circle cx="237.6" cy="652" r="1.1" fill="#555"/><circle cx="233.9" cy="655.4" r="1.6" fill="#000"/><circle cx="238" cy="658.8" r="1.1" fill="#555"/><circle cx="234.3" cy="662.2" r="1.6" fill="#000"/><circle cx="238.3" cy="665.6" r="1.1" fill="#555"/><circle cx="234.6" cy="669" r="1.6" fill="#000"/><circle cx="238.6" cy="672.4" r="1.1" fill="#555"/><circle cx="234.9" cy="675.8" r="1.6" fill="#000"/><circle cx="238.9" cy="679.2" r="1.1" fill="#555"/><circle cx="235.2" cy="682.6" r="1.6" fill="#000"/><circle cx="239.3" cy="686" r="1.1" fill="#555"/><circle cx="235.6" cy="689.4" r="1.6" fill="#000"/><circle cx="239.6" cy="692.8" r="1.1" fill="#555"/><circle cx="235.9" cy="696.2" r="1.6" fill="#000"/><circle cx="239.9" cy="699.6" r="1.1" fill="#555"/><circle cx="236.2" cy="703" r="1.6" fill="#000"/><circle cx="240.2" cy="706.4" r="1.1" fill="#555"/><circle cx="236.5" cy="709.8" r="1.6" fill="#000"/><circle cx="240.6" cy="713.2" r="1.1" fill="#555"/><circle cx="236.9" cy="716.6" r="1.6" fill="#000"/><circle cx="240.9" cy="720" r="1.1" fill="#555"/><circle cx="237.2" cy="723.4" r="1.6" fill="#000"/><circle cx="241.2" cy="726.8" r="1.1" fill="#555"/><circle cx="237.5" cy="730.2" r="1.6" fill="#000"/><circle cx="241.5" cy="733.6" r="1.1" fill="#555"/><circle cx="237.8" cy="737" r="1.6" fill="#000"/><circle cx="241.9" cy="740.4" r="1.1" fill="#555"/><circle cx="238.2" cy="743.8" r="1.6" fill="#000"/><circle cx="242.2" cy="747.2" r="1.1" fill="#555"/><circle cx="238.5" cy="750.6" r="1.6" fill="#000"/><circle cx="242.5" cy="754" r="1.1" fill="#555"/><circle cx="238.8" cy="757.4" r="1.6" fill="#000"/><circle cx="242.9" cy="760.8" r="1.1" fill="#555"/><circle cx="239.1" cy="764.2" r="1.6" fill="#000"/><circle cx="243.2" cy="767.6" r="1.1" fill="#555"/><circle cx="239.5" cy="771" r="1.6" fill="#000"/><circle cx="243.5" cy="774.4" r="1.1" fill="#555"/><circle cx="239.8" cy="777.8" r="1.6" fill="#000"/><circle cx="243.8" cy="781.2" r="1.1" fill="#555"/><circle cx="240.1" cy="784.6" r="1.6" fill="#000"/><circle cx="244.2" cy="788" r="1.1" fill="#555"/><circle cx="240.4" cy="791.4" r="1.6" fill="#000"/><circle cx="244.5" cy="794.8" r="1.1" fill="#555"/><circle cx="240.8" cy="798.2" r="1.6" fill="#000"/><circle cx="244.8" cy="801.6" r="1.1" fill="#555"/><circle cx="241.1" cy="805" r="1.6" fill="#000"/><circle cx="245.1" cy="808.4" r="1.1" fill="#555"/><circle cx="241.4" cy="811.8" r="1.6" fill="#000"/><circle cx="588.6" cy="382.1" r="1.6" fill="#000"/><circle cx="592.4" cy="385.3" r="1.1" fill="#777"/><circle cx="588.7" cy="388.5" r="1.6" fill="#000"/><circle cx="592.5" cy="391.7" r="1.1" fill="#777"/><circle cx="588.9" cy="394.9" r="1.6" fill="#000"/><circle cx="592.7" cy="398.1" r="1.1" fill="#777"/><circle cx="589" cy="401.3" r="1.6" fill="#000"/><circle cx="592.9" cy="404.5" r="1.1" fill="#777"/><circle cx="589.2" cy="407.7" r="1.6" fill="#000"/><circle cx="593" cy="410.9" r="1.1" fill="#777"/><circle cx="589.3" cy="414.1" r="1.6" fill="#000"/><circle cx="593.2" cy="417.3" r="1.1" fill="#777"/><circle cx="589.5" cy="420.5" r="1.6" fill="#000"/><circle cx="593.3" cy="423.7" r="1.1" fill="#777"/><circle cx="589.6" cy="426.9" r="1.6" fill="#000"/><circle cx="593.5" cy="430.1" r="1.1" fill="#777"/><circle cx="589.8" cy="433.3" r="1.6" fill="#000"/><circle cx="593.6" cy="436.5" r="1.1" fill="#777"/><circle cx="589.9" cy="439.7" r="1.6" fill="#000"/><circle cx="593.8" cy="442.9" r="1.1" fill="#777"/><circle cx="590.1" cy="446.1" r="1.6" fill="#000"/><circle cx="593.9" cy="449.3" r="1.1" fill="#777"/><circle cx="590.2" cy="452.5" r="1.6" fill="#000"/><circle cx="594.1" cy="455.7" r="1.1" fill="#777"/><circle cx="590.4" cy="458.9" r="1.6" fill="#000"/><circle cx="594.2" cy="462.1" r="1.1" fill="#777"/><circle cx="590.5" cy="465.3" r="1.6" fill="#000"/><circle cx="594.4" cy="468.5" r="1.1" fill="#777"/><circle cx="590.7" cy="471.7" r="1.6" fill="#000"/><circle cx="594.5" cy="474.9" r="1.1" fill="#777"/><circle cx="590.8" cy="478.1" r="1.6" fill="#000"/><circle cx="594.7" cy="481.3" r="1.1" fill="#777"/><circle cx="591" cy="484.5" r="1.6" fill="#000"/><circle cx="594.8" cy="487.7" r="1.1" fill="#777"/><circle cx="591.1" cy="490.8" r="1.6" fill="#000"/><circle cx="595" cy="494" r="1.1" fill="#777"/><circle cx="591.3" cy="497.2" r="1.6" fill="#000"/><circle cx="595.1" cy="500.4" r="1.1" fill="#777"/><circle cx="591.4" cy="503.6" r="1.6" fill="#000"/><circle cx="595.3" cy="506.8" r="1.1" fill="#777"/><circle cx="591.6" cy="510" r="1.6" fill="#000"/><circle cx="595.4" cy="513.2" r="1.1" fill="#777"/><circle cx="591.7" cy="516.4" r="1.6" fill="#000"/><circle cx="595.6" cy="519.6" r="1.1" fill="#777"/><circle cx="591.9" cy="522.8" r="1.6" fill="#000"/><circle cx="595.7" cy="526" r="1.1" fill="#777"/><circle cx="592" cy="529.2" r="1.6" fill="#000"/><circle cx="595.9" cy="532.4" r="1.1" fill="#777"/><circle cx="592.2" cy="535.6" r="1.6" fill="#000"/><circle cx="596" cy="538.8" r="1.1" fill="#777"/><circle cx="592.3" cy="542" r="1.6" fill="#000"/><circle cx="596.2" cy="545.2" r="1.1" fill="#777"/><circle cx="592.5" cy="548.4" r="1.6" fill="#000"/><circle cx="596.3" cy="551.6" r="1.1" fill="#777"/><circle cx="592.6" cy="554.8" r="1.6" fill="#000"/><circle cx="596.5" cy="558" r="1.1" fill="#777"/><circle cx="592.8" cy="561.2" r="1.6" fill="#000"/><circle cx="596.6" cy="564.4" r="1.1" fill="#777"/><circle cx="592.9" cy="567.6" r="1.6" fill="#000"/><circle cx="596.8" cy="570.8" r="1.1" fill="#777"/><circle cx="593.1" cy="574" r="1.6" fill="#000"/><circle cx="596.9" cy="577.2" r="1.1" fill="#777"/><circle cx="593.2" cy="580.4" r="1.6" fill="#000"/><circle cx="597.1" cy="583.6" r="1.1" fill="#777"/><circle cx="593.4" cy="586.8" r="1.6" fill="#000"/><circle cx="597.2" cy="590" r="1.1" fill="#777"/><circle cx="593.6" cy="593.2" r="1.6" fill="#000"/><circle cx="597.4" cy="596.4" r="1.1" fill="#777"/><circle cx="593.7" cy="599.6" r="1.6" fill="#000"/><circle cx="597.5" cy="602.8" r="1.1" fill="#777"/><circle cx="593.9" cy="606" r="1.6" fill="#000"/><circle cx="597.7" cy="609.2" r="1.1" fill="#777"/><circle cx="594" cy="612.4" r="1.6" fill="#000"/><circle cx="597.9" cy="615.6" r="1.1" fill="#777"/><circle cx="594.2" cy="618.8" r="1.6" fill="#000"/><circle cx="598" cy="622" r="1.1" fill="#777"/><circle cx="594.3" cy="625.2" r="1.6" fill="#000"/><circle cx="598.2" cy="628.4" r="1.1" fill="#777"/><circle cx="594.5" cy="631.6" r="1.6" fill="#000"/><circle cx="598.3" cy="634.8" r="1.1" fill="#777"/><circle cx="594.6" cy="638" r="1.6" fill="#000"/><circle cx="598.5" cy="641.2" r="1.1" fill="#777"/><circle cx="594.8" cy="644.4" r="1.6" fill="#000"/><circle cx="598.6" cy="647.6" r="1.1" fill="#777"/><circle cx="594.9" cy="650.8" r="1.6" fill="#000"/><circle cx="598.8" cy="653.9" r="1.1" fill="#777"/><circle cx="595.1" cy="657.1" r="1.6" fill="#000"/><circle cx="598.9" cy="660.3" r="1.1" fill="#777"/><circle cx="595.2" cy="663.5" r="1.6" fill="#000"/><circle cx="599.1" cy="666.7" r="1.1" fill="#777"/><circle cx="595.4" cy="669.9" r="1.6" fill="#000"/><circle cx="599.2" cy="673.1" r="1.1" fill="#777"/><circle cx="595.5" cy="676.3" r="1.6" fill="#000"/><circle cx="599.4" cy="679.5" r="1.1" fill="#777"/><circle cx="595.7" cy="682.7" r="1.6" fill="#000"/><circle cx="599.5" cy="685.9" r="1.1" fill="#777"/><circle cx="595.8" cy="689.1" r="1.6" fill="#000"/><circle cx="599.7" cy="692.3" r="1.1" fill="#777"/><circle cx="596" cy="695.5" r="1.6" fill="#000"/><circle cx="599.8" cy="698.7" r="1.1" fill="#777"/><circle cx="596.1" cy="701.9" r="1.6" fill="#000"/><circle cx="600" cy="705.1" r="1.1" fill="#777"/><circle cx="596.3" cy="708.3" r="1.6" fill="#000"/><circle cx="600.1" cy="711.5" r="1.1" fill="#777"/><circle cx="596.4" cy="714.7" r="1.6" fill="#000"/><circle cx="600.3" cy="717.9" r="1.1" fill="#777"/><circle cx="596.6" cy="721.1" r="1.6" fill="#000"/><circle cx="600.4" cy="724.3" r="1.1" fill="#777"/><circle cx="596.7" cy="727.5" r="1.6" fill="#000"/><circle cx="600.6" cy="730.7" r="1.1" fill="#777"/><circle cx="596.9" cy="733.9" r="1.6" fill="#000"/><circle cx="600.7" cy="737.1" r="1.1" fill="#777"/><circle cx="597" cy="740.3" r="1.6" fill="#000"/><circle cx="600.9" cy="743.5" r="1.1" fill="#777"/><circle cx="597.2" cy="746.7" r="1.6" fill="#000"/><circle cx="601" cy="749.9" r="1.1" fill="#777"/><circle cx="914.2" cy="350.9" r="1.5" fill="#000"/><circle cx="917.9" cy="353.9" r="1.1" fill="#999"/><circle cx="914.2" cy="357" r="1.5" fill="#000"/><circle cx="917.8" cy="360" r="1.1" fill="#999"/><circle cx="914.2" cy="363.1" r="1.5" fill="#000"/><circle cx="917.8" cy="366.1" r="1.1" fill="#999"/><circle cx="914.2" cy="369.2" r="1.5" fill="#000"/><circle cx="917.8" cy="372.2" r="1.1" fill="#999"/><circle cx="914.1" cy="375.2" r="1.5" fill="#000"/><circle cx="917.8" cy="378.3" r="1.1" fill="#999"/><circle cx="914.1" cy="381.3" r="1.5" fill="#000"/><circle cx="917.7" cy="384.4" r="1.1" fill="#999"/><circle cx="914.1" cy="387.4" r="1.5" fill="#000"/><circle cx="917.7" cy="390.5" r="1.1" fill="#999"/><circle cx="914.1" cy="393.5" r="1.5" fill="#000"/><circle cx="917.7" cy="396.6" r="1.1" fill="#999"/><circle cx="914" cy="399.6" r="1.5" fill="#000"/><circle cx="917.7" cy="402.7" r="1.1" fill="#999"/><circle cx="914" cy="405.7" r="1.5" fill="#000"/><circle cx="917.6" cy="408.8" r="1.1" fill="#999"/><circle cx="914" cy="411.8" r="1.5" fill="#000"/><circle cx="917.6" cy="414.9" r="1.1" fill="#999"/><circle cx="914" cy="417.9" r="1.5" fill="#000"/><circle cx="917.6" cy="420.9" r="1.1" fill="#999"/><circle cx="913.9" cy="424" r="1.5" fill="#000"/><circle cx="917.6" cy="427" r="1.1" fill="#999"/><circle cx="913.9" cy="430.1" r="1.5" fill="#000"/><circle cx="917.5" cy="433.1" r="1.1" fill="#999"/><circle cx="913.9" cy="436.2" r="1.5" fill="#000"/><circle cx="917.5" cy="439.2" r="1.1" fill="#999"/><circle cx="913.9" cy="442.3" r="1.5" fill="#000"/><circle cx="917.5" cy="445.3" r="1.1" fill="#999"/><circle cx="913.8" cy="448.4" r="1.5" fill="#000"/><circle cx="917.5" cy="451.4" r="1.1" fill="#999"/><circle cx="913.8" cy="454.5" r="1.5" fill="#000"/><circle cx="917.4" cy="457.5" r="1.1" fill="#999"/><circle cx="913.8" cy="460.5" r="1.5" fill="#000"/><circle cx="917.4" cy="463.6" r="1.1" fill="#999"/><circle cx="913.8" cy="466.6" r="1.5" fill="#000"/><circle cx="917.4" cy="469.7" r="1.1" fill="#999"/><circle cx="913.7" cy="472.7" r="1.5" fill="#000"/><circle cx="917.4" cy="475.8" r="1.1" fill="#999"/><circle cx="913.7" cy="478.8" r="1.5" fill="#000"/><circle cx="917.3" cy="481.9" r="1.1" fill="#999"/><circle cx="913.7" cy="484.9" r="1.5" fill="#000"/><circle cx="917.3" cy="488" r="1.1" fill="#999"/><circle cx="913.7" cy="491" r="1.5" fill="#000"/><circle cx="917.3" cy="494.1" r="1.1" fill="#999"/><circle cx="913.6" cy="497.1" r="1.5" fill="#000"/><circle cx="917.3" cy="500.2" r="1.1" fill="#999"/><circle cx="913.6" cy="503.2" r="1.5" fill="#000"/><circle cx="917.2" cy="506.2" r="1.1" fill="#999"/><circle cx="913.6" cy="509.3" r="1.5" fill="#000"/><circle cx="917.2" cy="512.3" r="1.1" fill="#999"/><circle cx="913.6" cy="515.4" r="1.5" fill="#000"/><circle cx="917.2" cy="518.4" r="1.1" fill="#999"/><circle cx="913.5" cy="521.5" r="1.5" fill="#000"/><circle cx="917.2" cy="524.5" r="1.1" fill="#999"/><circle cx="913.5" cy="527.6" r="1.5" fill="#000"/><circle cx="917.1" cy="530.6" r="1.1" fill="#999"/><circle cx="913.5" cy="533.7" r="1.5" fill="#000"/><circle cx="917.1" cy="536.7" r="1.1" fill="#999"/><circle cx="913.5" cy="539.8" r="1.5" fill="#000"/><circle cx="917.1" cy="542.8" r="1.1" fill="#999"/><circle cx="913.4" cy="545.9" r="1.5" fill="#000"/><circle cx="917.1" cy="548.9" r="1.1" fill="#999"/><circle cx="913.4" cy="551.9" r="1.5" fill="#000"/><circle cx="917" cy="555" r="1.1" fill="#999"/><circle cx="913.4" cy="558" r="1.5" fill="#000"/><circle cx="917" cy="561.1" r="1.1" fill="#999"/><circle cx="913.4" cy="564.1" r="1.5" fill="#000"/><circle cx="917" cy="567.2" r="1.1" fill="#999"/><circle cx="913.3" cy="570.2" r="1.5" fill="#000"/><circle cx="917" cy="573.3" r="1.1" fill="#999"/><circle cx="913.3" cy="576.3" r="1.5" fill="#000"/><circle cx="916.9" cy="579.4" r="1.1" fill="#999"/><circle cx="913.3" cy="582.4" r="1.5" fill="#000"/><circle cx="916.9" cy="585.5" r="1.1" fill="#999"/><circle cx="913.3" cy="588.5" r="1.5" fill="#000"/><circle cx="916.9" cy="591.6" r="1.1" fill="#999"/><circle cx="913.2" cy="594.6" r="1.5" fill="#000"/><circle cx="916.9" cy="597.6" r="1.1" fill="#999"/><circle cx="913.2" cy="600.7" r="1.5" fill="#000"/><circle cx="916.8" cy="603.7" r="1.1" fill="#999"/><circle cx="913.2" cy="606.8" r="1.5" fill="#000"/><circle cx="916.8" cy="609.8" r="1.1" fill="#999"/><circle cx="913.2" cy="612.9" r="1.5" fill="#000"/><circle cx="916.8" cy="615.9" r="1.1" fill="#999"/><circle cx="913.1" cy="619" r="1.5" fill="#000"/><circle cx="916.8" cy="622" r="1.1" fill="#999"/><circle cx="913.1" cy="625.1" r="1.5" fill="#000"/><circle cx="916.7" cy="628.1" r="1.1" fill="#999"/><circle cx="913.1" cy="631.2" r="1.5" fill="#000"/><circle cx="916.7" cy="634.2" r="1.1" fill="#999"/><circle cx="913.1" cy="637.2" r="1.5" fill="#000"/><circle cx="916.7" cy="640.3" r="1.1" fill="#999"/><circle cx="913" cy="643.3" r="1.5" fill="#000"/><circle cx="916.7" cy="646.4" r="1.1" fill="#999"/><circle cx="913" cy="649.4" r="1.5" fill="#000"/><circle cx="916.6" cy="652.5" r="1.1" fill="#999"/><circle cx="913" cy="655.5" r="1.5" fill="#000"/><circle cx="916.6" cy="658.6" r="1.1" fill="#999"/><circle cx="913" cy="661.6" r="1.5" fill="#000"/><circle cx="916.6" cy="664.7" r="1.1" fill="#999"/><circle cx="912.9" cy="667.7" r="1.5" fill="#000"/><circle cx="916.6" cy="670.8" r="1.1" fill="#999"/><circle cx="912.9" cy="673.8" r="1.5" fill="#000"/><circle cx="916.5" cy="676.9" r="1.1" fill="#999"/><circle cx="912.9" cy="679.9" r="1.5" fill="#000"/><circle cx="916.5" cy="682.9" r="1.1" fill="#999"/><circle cx="912.9" cy="686" r="1.5" fill="#000"/><circle cx="916.5" cy="689" r="1.1" fill="#999"/><circle cx="912.8" cy="692.1" r="1.5" fill="#000"/><circle cx="916.5" cy="695.1" r="1.1" fill="#999"/><circle cx="912.8" cy="698.2" r="1.5" fill="#000"/><circle cx="916.4" cy="701.2" r="1.1" fill="#999"/><circle cx="1203.6" cy="322.6" r="1.5" fill="#000"/><circle cx="1207.2" cy="325.5" r="1.1" fill="#999"/><circle cx="1203.5" cy="328.4" r="1.5" fill="#000"/><circle cx="1207.1" cy="331.3" r="1.1" fill="#999"/><circle cx="1203.4" cy="334.2" r="1.5" fill="#000"/><circle cx="1206.9" cy="337.1" r="1.1" fill="#999"/><circle cx="1203.2" cy="340" r="1.5" fill="#000"/><circle cx="1206.8" cy="342.9" r="1.1" fill="#999"/><circle cx="1203.1" cy="345.8" r="1.5" fill="#000"/><circle cx="1206.7" cy="348.7" r="1.1" fill="#999"/><circle cx="1203" cy="351.6" r="1.5" fill="#000"/><circle cx="1206.5" cy="354.5" r="1.1" fill="#999"/><circle cx="1202.8" cy="357.4" r="1.5" fill="#000"/><circle cx="1206.4" cy="360.3" r="1.1" fill="#999"/><circle cx="1202.7" cy="363.2" r="1.5" fill="#000"/><circle cx="1206.2" cy="366.1" r="1.1" fill="#999"/><circle cx="1202.5" cy="369" r="1.5" fill="#000"/><circle cx="1206.1" cy="371.8" r="1.1" fill="#999"/><circle cx="1202.4" cy="374.7" r="1.5" fill="#000"/><circle cx="1206" cy="377.6" r="1.1" fill="#999"/><circle cx="1202.3" cy="380.5" r="1.5" fill="#000"/><circle cx="1205.8" cy="383.4" r="1.1" fill="#999"/><circle cx="1202.1" cy="386.3" r="1.5" fill="#000"/><circle cx="1205.7" cy="389.2" r="1.1" fill="#999"/><circle cx="1202" cy="392.1" r="1.5" fill="#000"/><circle cx="1205.5" cy="395" r="1.1" fill="#999"/><circle cx="1201.9" cy="397.9" r="1.5" fill="#000"/><circle cx="1205.4" cy="400.8" r="1.1" fill="#999"/><circle cx="1201.7" cy="403.7" r="1.5" fill="#000"/><circle cx="1205.3" cy="406.6" r="1.1" fill="#999"/><circle cx="1201.6" cy="409.5" r="1.5" fill="#000"/><circle cx="1205.1" cy="412.4" r="1.1" fill="#999"/><circle cx="1201.4" cy="415.3" r="1.5" fill="#000"/><circle cx="1205" cy="418.2" r="1.1" fill="#999"/><circle cx="1201.3" cy="421.1" r="1.5" fill="#000"/><circle cx="1204.8" cy="424" r="1.1" fill="#999"/><circle cx="1201.2" cy="426.9" r="1.5" fill="#000"/><circle cx="1204.7" cy="429.7" r="1.1" fill="#999"/><circle cx="1201" cy="432.6" r="1.5" fill="#000"/><circle cx="1204.6" cy="435.5" r="1.1" fill="#999"/><circle cx="1200.9" cy="438.4" r="1.5" fill="#000"/><circle cx="1204.4" cy="441.3" r="1.1" fill="#999"/><circle cx="1200.8" cy="444.2" r="1.5" fill="#000"/><circle cx="1204.3" cy="447.1" r="1.1" fill="#999"/><circle cx="1200.6" cy="450" r="1.5" fill="#000"/><circle cx="1204.1" cy="452.9" r="1.1" fill="#999"/><circle cx="1200.5" cy="455.8" r="1.5" fill="#000"/><circle cx="1204" cy="458.7" r="1.1" fill="#999"/><circle cx="1200.3" cy="461.6" r="1.5" fill="#000"/><circle cx="1203.9" cy="464.5" r="1.1" fill="#999"/><circle cx="1200.2" cy="467.4" r="1.5" fill="#000"/><circle cx="1203.7" cy="470.3" r="1.1" fill="#999"/><circle cx="1200.1" cy="473.2" r="1.5" fill="#000"/><circle cx="1203.6" cy="476.1" r="1.1" fill="#999"/><circle cx="1199.9" cy="479" r="1.5" fill="#000"/><circle cx="1203.4" cy="481.9" r="1.1" fill="#999"/><circle cx="1199.8" cy="484.8" r="1.5" fill="#000"/><circle cx="1203.3" cy="487.6" r="1.1" fill="#999"/><circle cx="1199.7" cy="490.5" r="1.5" fill="#000"/><circle cx="1203.2" cy="493.4" r="1.1" fill="#999"/><circle cx="1199.5" cy="496.3" r="1.5" fill="#000"/><circle cx="1203" cy="499.2" r="1.1" fill="#999"/><circle cx="1199.4" cy="502.1" r="1.5" fill="#000"/><circle cx="1202.9" cy="505" r="1.1" fill="#999"/><circle cx="1199.2" cy="507.9" r="1.5" fill="#000"/><circle cx="1202.7" cy="510.8" r="1.1" fill="#999"/><circle cx="1199.1" cy="513.7" r="1.5" fill="#000"/><circle cx="1202.6" cy="516.6" r="1.1" fill="#999"/><circle cx="1199" cy="519.5" r="1.5" fill="#000"/><circle cx="1202.5" cy="522.4" r="1.1" fill="#999"/><circle cx="1198.8" cy="525.3" r="1.5" fill="#000"/><circle cx="1202.3" cy="528.2" r="1.1" fill="#999"/><circle cx="1198.7" cy="531.1" r="1.5" fill="#000"/><circle cx="1202.2" cy="534" r="1.1" fill="#999"/><circle cx="1198.6" cy="536.9" r="1.5" fill="#000"/><circle cx="1202" cy="539.8" r="1.1" fill="#999"/><circle cx="1198.4" cy="542.7" r="1.5" fill="#000"/><circle cx="1201.9" cy="545.6" r="1.1" fill="#999"/><circle cx="1198.3" cy="548.4" r="1.5" fill="#000"/><circle cx="1201.8" cy="551.3" r="1.1" fill="#999"/><circle cx="1198.1" cy="554.2" r="1.5" fill="#000"/><circle cx="1201.6" cy="557.1" r="1.1" fill="#999"/><circle cx="1198" cy="560" r="1.5" fill="#000"/><circle cx="1201.5" cy="562.9" r="1.1" fill="#999"/><circle cx="1197.9" cy="565.8" r="1.5" fill="#000"/><circle cx="1201.4" cy="568.7" r="1.1" fill="#999"/><circle cx="1197.7" cy="571.6" r="1.5" fill="#000"/><circle cx="1201.2" cy="574.5" r="1.1" fill="#999"/><circle cx="1197.6" cy="577.4" r="1.5" fill="#000"/><circle cx="1201.1" cy="580.3" r="1.1" fill="#999"/><circle cx="1197.5" cy="583.2" r="1.5" fill="#000"/><circle cx="1200.9" cy="586.1" r="1.1" fill="#999"/><circle cx="1197.3" cy="589" r="1.5" fill="#000"/><circle cx="1200.8" cy="591.9" r="1.1" fill="#999"/><circle cx="1197.2" cy="594.8" r="1.5" fill="#000"/><circle cx="1200.7" cy="597.7" r="1.1" fill="#999"/><circle cx="1197" cy="600.6" r="1.5" fill="#000"/><circle cx="1200.5" cy="603.5" r="1.1" fill="#999"/><circle cx="1196.9" cy="606.3" r="1.5" fill="#000"/><circle cx="1200.4" cy="609.2" r="1.1" fill="#999"/><circle cx="1196.8" cy="612.1" r="1.5" fill="#000"/><circle cx="1200.2" cy="615" r="1.1" fill="#999"/><circle cx="1196.6" cy="617.9" r="1.5" fill="#000"/><circle cx="1200.1" cy="620.8" r="1.1" fill="#999"/><circle cx="1196.5" cy="623.7" r="1.5" fill="#000"/><circle cx="1200" cy="626.6" r="1.1" fill="#999"/><circle cx="1196.4" cy="629.5" r="1.5" fill="#000"/><circle cx="1199.8" cy="632.4" r="1.1" fill="#999"/><circle cx="1196.2" cy="635.3" r="1.5" fill="#000"/><circle cx="1199.7" cy="638.2" r="1.1" fill="#999"/><circle cx="1196.1" cy="641.1" r="1.5" fill="#000"/><circle cx="1199.5" cy="644" r="1.1" fill="#999"/><circle cx="1195.9" cy="646.9" r="1.5" fill="#000"/><circle cx="1199.4" cy="649.8" r="1.1" fill="#999"/><circle cx="1195.8" cy="652.7" r="1.5" fill="#000"/><circle cx="1199.3" cy="655.6" r="1.1" fill="#999"/><circle cx="1464.4" cy="297.4" r="1.4" fill="#000"/><circle cx="1467.8" cy="300.1" r="1" fill="#999"/><circle cx="1464.1" cy="302.8" r="1.4" fill="#000"/><circle cx="1467.5" cy="305.6" r="1" fill="#999"/><circle cx="1463.9" cy="308.3" r="1.4" fill="#000"/><circle cx="1467.3" cy="311.1" r="1" fill="#999"/><circle cx="1463.7" cy="313.8" r="1.4" fill="#000"/><circle cx="1467" cy="316.5" r="1" fill="#999"/><circle cx="1463.4" cy="319.3" r="1.4" fill="#000"/><circle cx="1466.8" cy="322" r="1" fill="#999"/><circle cx="1463.2" cy="324.7" r="1.4" fill="#000"/><circle cx="1466.5" cy="327.5" r="1" fill="#999"/><circle cx="1462.9" cy="330.2" r="1.4" fill="#000"/><circle cx="1466.3" cy="332.9" r="1" fill="#999"/><circle cx="1462.7" cy="335.7" r="1.4" fill="#000"/><circle cx="1466" cy="338.4" r="1" fill="#999"/><circle cx="1462.4" cy="341.1" r="1.4" fill="#000"/><circle cx="1465.8" cy="343.9" r="1" fill="#999"/><circle cx="1462.2" cy="346.6" r="1.4" fill="#000"/><circle cx="1465.5" cy="349.3" r="1" fill="#999"/><circle cx="1461.9" cy="352.1" r="1.4" fill="#000"/><circle cx="1465.3" cy="354.8" r="1" fill="#999"/><circle cx="1461.7" cy="357.5" r="1.4" fill="#000"/><circle cx="1465" cy="360.3" r="1" fill="#999"/><circle cx="1461.4" cy="363" r="1.4" fill="#000"/><circle cx="1464.8" cy="365.8" r="1" fill="#999"/><circle cx="1461.2" cy="368.5" r="1.4" fill="#000"/><circle cx="1464.5" cy="371.2" r="1" fill="#999"/><circle cx="1460.9" cy="374" r="1.4" fill="#000"/><circle cx="1464.3" cy="376.7" r="1" fill="#999"/><circle cx="1460.7" cy="379.4" r="1.4" fill="#000"/><circle cx="1464" cy="382.2" r="1" fill="#999"/><circle cx="1460.4" cy="384.9" r="1.4" fill="#000"/><circle cx="1463.8" cy="387.6" r="1" fill="#999"/><circle cx="1460.2" cy="390.4" r="1.4" fill="#000"/><circle cx="1463.5" cy="393.1" r="1" fill="#999"/><circle cx="1459.9" cy="395.8" r="1.4" fill="#000"/><circle cx="1463.3" cy="398.6" r="1" fill="#999"/><circle cx="1459.7" cy="401.3" r="1.4" fill="#000"/><circle cx="1463" cy="404" r="1" fill="#999"/><circle cx="1459.5" cy="406.8" r="1.4" fill="#000"/><circle cx="1462.8" cy="409.5" r="1" fill="#999"/><circle cx="1459.2" cy="412.3" r="1.4" fill="#000"/><circle cx="1462.5" cy="415" r="1" fill="#999"/><circle cx="1459" cy="417.7" r="1.4" fill="#000"/><circle cx="1462.3" cy="420.5" r="1" fill="#999"/><circle cx="1458.7" cy="423.2" r="1.4" fill="#000"/><circle cx="1462" cy="425.9" r="1" fill="#999"/><circle cx="1458.5" cy="428.7" r="1.4" fill="#000"/><circle cx="1461.8" cy="431.4" r="1" fill="#999"/><circle cx="1458.2" cy="434.1" r="1.4" fill="#000"/><circle cx="1461.5" cy="436.9" r="1" fill="#999"/><circle cx="1458" cy="439.6" r="1.4" fill="#000"/><circle cx="1461.3" cy="442.3" r="1" fill="#999"/><circle cx="1457.7" cy="445.1" r="1.4" fill="#000"/><circle cx="1461.1" cy="447.8" r="1" fill="#999"/><circle cx="1457.5" cy="450.5" r="1.4" fill="#000"/><circle cx="1460.8" cy="453.3" r="1" fill="#999"/><circle cx="1457.2" cy="456" r="1.4" fill="#000"/><circle cx="1460.6" cy="458.8" r="1" fill="#999"/><circle cx="1457" cy="461.5" r="1.4" fill="#000"/><circle cx="1460.3" cy="464.2" r="1" fill="#999"/><circle cx="1456.7" cy="467" r="1.4" fill="#000"/><circle cx="1460.1" cy="469.7" r="1" fill="#999"/><circle cx="1456.5" cy="472.4" r="1.4" fill="#000"/><circle cx="1459.8" cy="475.2" r="1" fill="#999"/><circle cx="1456.2" cy="477.9" r="1.4" fill="#000"/><circle cx="1459.6" cy="480.6" r="1" fill="#999"/><circle cx="1456" cy="483.4" r="1.4" fill="#000"/><circle cx="1459.3" cy="486.1" r="1" fill="#999"/><circle cx="1455.8" cy="488.8" r="1.4" fill="#000"/><circle cx="1459.1" cy="491.6" r="1" fill="#999"/><circle cx="1455.5" cy="494.3" r="1.4" fill="#000"/><circle cx="1458.8" cy="497" r="1" fill="#999"/><circle cx="1455.3" cy="499.8" r="1.4" fill="#000"/><circle cx="1458.6" cy="502.5" r="1" fill="#999"/><circle cx="1455" cy="505.2" r="1.4" fill="#000"/><circle cx="1458.3" cy="508" r="1" fill="#999"/><circle cx="1454.8" cy="510.7" r="1.4" fill="#000"/><circle cx="1458.1" cy="513.5" r="1" fill="#999"/><circle cx="1454.5" cy="516.2" r="1.4" fill="#000"/><circle cx="1457.8" cy="518.9" r="1" fill="#999"/><circle cx="1454.3" cy="521.7" r="1.4" fill="#000"/><circle cx="1457.6" cy="524.4" r="1" fill="#999"/><circle cx="1454" cy="527.1" r="1.4" fill="#000"/><circle cx="1457.3" cy="529.9" r="1" fill="#999"/><circle cx="1453.8" cy="532.6" r="1.4" fill="#000"/><circle cx="1457.1" cy="535.3" r="1" fill="#999"/><circle cx="1453.5" cy="538.1" r="1.4" fill="#000"/><circle cx="1456.8" cy="540.8" r="1" fill="#999"/><circle cx="1453.3" cy="543.5" r="1.4" fill="#000"/><circle cx="1456.6" cy="546.3" r="1" fill="#999"/><circle cx="1453" cy="549" r="1.4" fill="#000"/><circle cx="1456.3" cy="551.7" r="1" fill="#999"/><circle cx="1452.8" cy="554.5" r="1.4" fill="#000"/><circle cx="1456.1" cy="557.2" r="1" fill="#999"/><circle cx="1452.5" cy="560" r="1.4" fill="#000"/><circle cx="1455.8" cy="562.7" r="1" fill="#999"/><circle cx="1452.3" cy="565.4" r="1.4" fill="#000"/><circle cx="1455.6" cy="568.2" r="1" fill="#999"/><circle cx="1452" cy="570.9" r="1.4" fill="#000"/><circle cx="1455.3" cy="573.6" r="1" fill="#999"/><circle cx="1451.8" cy="576.4" r="1.4" fill="#000"/><circle cx="1455.1" cy="579.1" r="1" fill="#999"/><circle cx="1451.6" cy="581.8" r="1.4" fill="#000"/><circle cx="1454.8" cy="584.6" r="1" fill="#999"/><circle cx="1451.3" cy="587.3" r="1.4" fill="#000"/><circle cx="1454.6" cy="590" r="1" fill="#999"/><circle cx="1451.1" cy="592.8" r="1.4" fill="#000"/><circle cx="1454.3" cy="595.5" r="1" fill="#999"/><circle cx="1450.8" cy="598.2" r="1.4" fill="#000"/><circle cx="1454.1" cy="601" r="1" fill="#999"/><circle cx="1450.6" cy="603.7" r="1.4" fill="#000"/><circle cx="1453.8" cy="606.4" r="1" fill="#999"/><circle cx="1450.3" cy="609.2" r="1.4" fill="#000"/><circle cx="1453.6" cy="611.9" r="1" fill="#999"/></mask><linearGradient id="fadeNavy" gradientUnits="userSpaceOnUse" x1="1481" y1="0" x2="1548" y2="0"><stop offset="0" stop-color="#0e2c8c"/><stop offset="0.35" stop-color="#0e2c8c" stop-opacity="0.85"/><stop offset="1" stop-color="#0e2c8c" stop-opacity="0"/></linearGradient><linearGradient id="fadeNavy2" gradientUnits="userSpaceOnUse" x1="286" y1="0" x2="1532" y2="0"><stop offset="0" stop-color="#0e2c8c"/><stop offset="0.93" stop-color="#0e2c8c"/><stop offset="1" stop-color="#0e2c8c" stop-opacity="0"/></linearGradient><filter id="soft" x="-2%" y="-2%" width="104%" height="104%" color-interpolation-filters="sRGB"><feGaussianBlur stdDeviation="0.45"/></filter></defs><rect width="100%" height="100%" fill="#fafafa"/><g filter="url(#soft)"><g mask="url(#mback)">
<polygon points="173.3,389.5 189.8,389.5 210,779 193.8,779" fill="#15205f"/>
<polygon points="173.3,389.5 178.2,389.5 198.8,779 193.8,779" fill="#2136a8"/>
<polygon points="173.3,389.5 174.5,389.5 195,779 193.8,779" fill="#3049ba"/>
<polygon points="193.8,777.3 210,777.3 213.1,786.4 213.1,787.7 190.9,787.7 190.9,786.4" fill="#1a2c8a"/>
<polygon points="190.9,785.9 213.1,785.9 213.1,787.7 190.9,787.7" fill="#15236e"/>
<polygon points="530.3,357 544.8,357 553.8,725 539.8,725" fill="#15205f"/>
<polygon points="530.3,357 534.6,357 544.1,725 539.8,725" fill="#2136a8"/>
<polygon points="530.3,357 531.3,357 540.8,725 539.8,725" fill="#3049ba"/>
<polygon points="539.8,723.4 553.8,723.4 556.7,732 556.7,733.2 537.1,733.2 537.1,732" fill="#1a2c8a"/>
<polygon points="537.1,731.6 556.7,731.6 556.7,733.2 537.1,733.2" fill="#15236e"/>
<polygon points="847.3,327.5 861,327.5 860.5,678 846.5,678" fill="#15205f"/>
<polygon points="847.3,327.5 851.4,327.5 850.6,678 846.5,678" fill="#2136a8"/>
<polygon points="847.3,327.5 848.3,327.5 847.5,678 846.5,678" fill="#3049ba"/>
<polygon points="846.5,676.4 860.5,676.4 863.3,684.6 863.3,685.8 843.9,685.8 843.9,684.6" fill="#1a2c8a"/>
<polygon points="843.9,684.2 863.3,684.2 863.3,685.8 843.9,685.8" fill="#15236e"/>
<polygon points="1132,302.5 1144.5,302.5 1138.5,637 1126.5,637" fill="#15205f"/>
<polygon points="1132,302.5 1135.8,302.5 1130.2,637 1126.5,637" fill="#2136a8"/>
<polygon points="1132,302.5 1132.9,302.5 1127.4,637 1126.5,637" fill="#3049ba"/>
<polygon points="1126.5,635.5 1138.5,635.5 1141.1,643.3 1141.1,644.5 1124,644.5 1124,643.3" fill="#1a2c8a"/>
<polygon points="1124,643 1141.1,643 1141.1,644.5 1124,644.5" fill="#15236e"/>
<polygon points="1387.5,279 1400.5,279 1388.5,597 1376.5,597" fill="#15205f"/>
<polygon points="1387.5,279 1391.4,279 1380.4,597 1376.5,597" fill="#2136a8"/>
<polygon points="1387.5,279 1388.4,279 1377.4,597 1376.5,597" fill="#3049ba"/>
<polygon points="1376.5,595.6 1388.5,595.6 1391,603 1391,604.1 1374.1,604.1 1374.1,603" fill="#1a2c8a"/>
<polygon points="1374.1,602.7 1391,602.7 1391,604.1 1374.1,604.1" fill="#15236e"/>
</g>
<line x1="183.9" y1="433.9" x2="230.6" y2="536.8" stroke="#8d9195" stroke-width="5.8" stroke-linecap="round"/><line x1="183.9" y1="433.4" x2="230.6" y2="536.3" stroke="#bcbfc2" stroke-width="3.2" stroke-linecap="round"/>
<line x1="230.6" y1="536.8" x2="193" y2="608" stroke="#8d9195" stroke-width="5.8" stroke-linecap="round"/><line x1="230.6" y1="536.3" x2="193" y2="607.5" stroke="#bcbfc2" stroke-width="3.2" stroke-linecap="round"/>
<line x1="193" y1="608" x2="239.4" y2="719" stroke="#8d9195" stroke-width="5.8" stroke-linecap="round"/><line x1="193" y1="607.5" x2="239.4" y2="718.5" stroke="#bcbfc2" stroke-width="3.2" stroke-linecap="round"/>
<line x1="239.4" y1="719" x2="201.7" y2="775.9" stroke="#8d9195" stroke-width="5.8" stroke-linecap="round"/><line x1="239.4" y1="718.5" x2="201.7" y2="775.4" stroke="#bcbfc2" stroke-width="3.2" stroke-linecap="round"/>
<line x1="201.8" y1="777.1" x2="243.5" y2="805.9" stroke="#8d9195" stroke-width="6.4" stroke-linecap="round"/><line x1="201.8" y1="776.6" x2="243.5" y2="805.4" stroke="#bcbfc2" stroke-width="3.5" stroke-linecap="round"/>
<line x1="538.6" y1="399" x2="593.5" y2="494.4" stroke="#8d9195" stroke-width="5.5" stroke-linecap="round"/><line x1="538.6" y1="398.5" x2="593.5" y2="493.9" stroke="#bcbfc2" stroke-width="3" stroke-linecap="round"/>
<line x1="593.5" y1="494.4" x2="542.7" y2="563.4" stroke="#8d9195" stroke-width="5.5" stroke-linecap="round"/><line x1="593.5" y1="493.9" x2="542.7" y2="562.9" stroke="#bcbfc2" stroke-width="3" stroke-linecap="round"/>
<line x1="542.7" y1="563.4" x2="597.6" y2="665.8" stroke="#8d9195" stroke-width="5.5" stroke-linecap="round"/><line x1="542.7" y1="562.9" x2="597.6" y2="665.3" stroke="#bcbfc2" stroke-width="3" stroke-linecap="round"/>
<line x1="597.6" y1="665.8" x2="546.7" y2="722.1" stroke="#8d9195" stroke-width="5.5" stroke-linecap="round"/><line x1="597.6" y1="665.3" x2="546.7" y2="721.6" stroke="#bcbfc2" stroke-width="3" stroke-linecap="round"/>
<line x1="546.8" y1="723.2" x2="599.5" y2="747.5" stroke="#8d9195" stroke-width="6" stroke-linecap="round"/><line x1="546.8" y1="722.7" x2="599.5" y2="747" stroke="#bcbfc2" stroke-width="3.3" stroke-linecap="round"/>
<line x1="854.1" y1="367.5" x2="916" y2="457.9" stroke="#8d9195" stroke-width="5.2" stroke-linecap="round"/><line x1="854.1" y1="367" x2="916" y2="457.4" stroke="#bcbfc2" stroke-width="2.9" stroke-linecap="round"/>
<line x1="916" y1="457.9" x2="853.8" y2="524.1" stroke="#8d9195" stroke-width="5.2" stroke-linecap="round"/><line x1="916" y1="457.4" x2="853.8" y2="523.6" stroke="#bcbfc2" stroke-width="2.9" stroke-linecap="round"/>
<line x1="853.8" y1="524.1" x2="915.4" y2="621.1" stroke="#8d9195" stroke-width="5.2" stroke-linecap="round"/><line x1="853.8" y1="523.6" x2="915.4" y2="620.6" stroke="#bcbfc2" stroke-width="2.9" stroke-linecap="round"/>
<line x1="915.4" y1="621.1" x2="853.5" y2="675.2" stroke="#8d9195" stroke-width="5.2" stroke-linecap="round"/><line x1="915.4" y1="620.6" x2="853.5" y2="674.7" stroke="#bcbfc2" stroke-width="2.9" stroke-linecap="round"/>
<line x1="853.5" y1="676.2" x2="915" y2="699" stroke="#8d9195" stroke-width="5.7" stroke-linecap="round"/><line x1="853.5" y1="675.7" x2="915" y2="698.5" stroke="#bcbfc2" stroke-width="3.1" stroke-linecap="round"/>
<line x1="1137.6" y1="340.6" x2="1203.5" y2="424.3" stroke="#8d9195" stroke-width="4.9" stroke-linecap="round"/><line x1="1137.6" y1="340.1" x2="1203.5" y2="423.8" stroke="#bcbfc2" stroke-width="2.7" stroke-linecap="round"/>
<line x1="1203.5" y1="424.3" x2="1135" y2="490.2" stroke="#8d9195" stroke-width="4.9" stroke-linecap="round"/><line x1="1203.5" y1="423.8" x2="1135" y2="489.7" stroke="#bcbfc2" stroke-width="2.7" stroke-linecap="round"/>
<line x1="1135" y1="490.2" x2="1199.7" y2="579.4" stroke="#8d9195" stroke-width="4.9" stroke-linecap="round"/><line x1="1135" y1="489.7" x2="1199.7" y2="578.9" stroke="#bcbfc2" stroke-width="2.7" stroke-linecap="round"/>
<line x1="1199.7" y1="579.4" x2="1132.5" y2="634.3" stroke="#8d9195" stroke-width="4.9" stroke-linecap="round"/><line x1="1199.7" y1="578.9" x2="1132.5" y2="633.8" stroke="#bcbfc2" stroke-width="2.7" stroke-linecap="round"/>
<line x1="1132.5" y1="635.3" x2="1198" y2="653.4" stroke="#8d9195" stroke-width="5.4" stroke-linecap="round"/><line x1="1132.5" y1="634.8" x2="1198" y2="652.9" stroke="#bcbfc2" stroke-width="3" stroke-linecap="round"/>
<line x1="1392.7" y1="315.3" x2="1462.2" y2="393.4" stroke="#8d9195" stroke-width="4.7" stroke-linecap="round"/><line x1="1392.7" y1="314.8" x2="1462.2" y2="392.9" stroke="#bcbfc2" stroke-width="2.6" stroke-linecap="round"/>
<line x1="1462.2" y1="393.4" x2="1387.5" y2="457.4" stroke="#8d9195" stroke-width="4.7" stroke-linecap="round"/><line x1="1462.2" y1="392.9" x2="1387.5" y2="456.9" stroke="#bcbfc2" stroke-width="2.6" stroke-linecap="round"/>
<line x1="1387.5" y1="457.4" x2="1455.5" y2="540" stroke="#8d9195" stroke-width="4.7" stroke-linecap="round"/><line x1="1387.5" y1="456.9" x2="1455.5" y2="539.5" stroke="#bcbfc2" stroke-width="2.6" stroke-linecap="round"/>
<line x1="1455.5" y1="540" x2="1382.6" y2="594.5" stroke="#8d9195" stroke-width="4.7" stroke-linecap="round"/><line x1="1455.5" y1="539.5" x2="1382.6" y2="594" stroke="#bcbfc2" stroke-width="2.6" stroke-linecap="round"/>
<line x1="1382.6" y1="595.4" x2="1452.4" y2="609.9" stroke="#8d9195" stroke-width="5.1" stroke-linecap="round"/><line x1="1382.6" y1="594.9" x2="1452.4" y2="609.4" stroke="#bcbfc2" stroke-width="2.8" stroke-linecap="round"/>
<polygon points="1392.5,321.7 1624,298.6 1624,304.5 1392.5,328.6" fill="#cf6917"/>
<polygon points="1392.5,320.7 1624,297.6 1704.8,317.2 1464.7,339.6" fill="url(#sh4_0)"/>
<line x1="1413.5" y1="318.6" x2="1486.4" y2="333.1" stroke="#d0d3d6" stroke-width="0.9" opacity="0.16"/>
<line x1="1434.6" y1="316.5" x2="1508.1" y2="331.1" stroke="#d0d3d6" stroke-width="0.9" opacity="0.16"/>
<line x1="1455.6" y1="314.4" x2="1529.8" y2="329" stroke="#d0d3d6" stroke-width="0.9" opacity="0.16"/>
<line x1="1476.7" y1="312.3" x2="1551.5" y2="327" stroke="#d0d3d6" stroke-width="0.9" opacity="0.16"/>
<line x1="1497.7" y1="310.2" x2="1573.2" y2="324.9" stroke="#d0d3d6" stroke-width="0.9" opacity="0.16"/>
<line x1="1518.8" y1="308.1" x2="1594.9" y2="322.9" stroke="#d0d3d6" stroke-width="0.9" opacity="0.16"/>
<line x1="1539.8" y1="306" x2="1616.6" y2="320.8" stroke="#d0d3d6" stroke-width="0.9" opacity="0.16"/>
<line x1="1560.9" y1="303.9" x2="1638.3" y2="318.8" stroke="#d0d3d6" stroke-width="0.9" opacity="0.16"/>
<line x1="1581.9" y1="301.8" x2="1659.9" y2="316.8" stroke="#d0d3d6" stroke-width="0.9" opacity="0.16"/>
<line x1="1603" y1="299.7" x2="1681.6" y2="314.7" stroke="#d0d3d6" stroke-width="0.9" opacity="0.16"/>
<polygon points="1464.7,335.1 1703.3,312.7 1703.3,317.2 1464.7,339.6" fill="#8e9092"/>
<polygon points="1464.7,339.1 1703.3,316.7 1703.3,323.7 1464.7,347.7" fill="#cf6917"/>
<polygon points="1464.7,340.2 1703.3,317.5 1703.3,318.8 1464.7,341.7" fill="#fff" opacity="0.1"/>
<polygon points="1464.7,343.8 1703.3,320.5 1703.3,321.2 1464.7,344.7" fill="#000" opacity="0.07"/>
<polygon points="1390,391.9 1620.7,365.3 1620.7,370.9 1390,398.5" fill="#cf6917"/>
<polygon points="1390,390.9 1620.7,364.3 1700,389.5 1461.3,414.8" fill="url(#sh4_1)"/>
<line x1="1410.9" y1="388.5" x2="1482.8" y2="408" stroke="#d0d3d6" stroke-width="0.9" opacity="0.16"/>
<line x1="1431.9" y1="386.1" x2="1504.4" y2="405.7" stroke="#d0d3d6" stroke-width="0.9" opacity="0.16"/>
<line x1="1452.9" y1="383.7" x2="1526" y2="403.4" stroke="#d0d3d6" stroke-width="0.9" opacity="0.16"/>
<line x1="1473.9" y1="381.3" x2="1547.5" y2="401.1" stroke="#d0d3d6" stroke-width="0.9" opacity="0.16"/>
<line x1="1494.8" y1="378.8" x2="1569.1" y2="398.8" stroke="#d0d3d6" stroke-width="0.9" opacity="0.16"/>
<line x1="1515.8" y1="376.4" x2="1590.7" y2="396.5" stroke="#d0d3d6" stroke-width="0.9" opacity="0.16"/>
<line x1="1536.8" y1="374" x2="1612.2" y2="394.2" stroke="#d0d3d6" stroke-width="0.9" opacity="0.16"/>
<line x1="1557.8" y1="371.6" x2="1633.8" y2="391.9" stroke="#d0d3d6" stroke-width="0.9" opacity="0.16"/>
<line x1="1578.8" y1="369.1" x2="1655.4" y2="389.6" stroke="#d0d3d6" stroke-width="0.9" opacity="0.16"/>
<line x1="1599.7" y1="366.7" x2="1676.9" y2="387.3" stroke="#d0d3d6" stroke-width="0.9" opacity="0.16"/>
<polygon points="1461.3,410.3 1698.5,385 1698.5,389.5 1461.3,414.8" fill="#979a9c"/>
<polygon points="1461.3,414.3 1698.5,389 1698.5,396.2 1461.3,422.3" fill="#cf6917"/>
<polygon points="1461.3,415.2 1698.5,389.8 1698.5,391.1 1461.3,416.7" fill="#fff" opacity="0.1"/>
<polygon points="1461.3,418.7 1698.5,392.9 1698.5,393.6 1461.3,419.5" fill="#000" opacity="0.07"/>
<polygon points="1387.3,464.1 1617.3,433.9 1617.3,439.6 1387.3,470.9" fill="#cf6917"/>
<polygon points="1387.3,463.1 1617.3,432.9 1695.7,454 1458.2,483.5" fill="url(#sh4_2)"/>
<line x1="1408.2" y1="460.4" x2="1479.6" y2="476.4" stroke="#d0d3d6" stroke-width="0.9" opacity="0.16"/>
<line x1="1429.2" y1="457.6" x2="1501.1" y2="473.7" stroke="#d0d3d6" stroke-width="0.9" opacity="0.16"/>
<line x1="1450.1" y1="454.9" x2="1522.5" y2="471" stroke="#d0d3d6" stroke-width="0.9" opacity="0.16"/>
<line x1="1471" y1="452.1" x2="1544" y2="468.3" stroke="#d0d3d6" stroke-width="0.9" opacity="0.16"/>
<line x1="1491.9" y1="449.4" x2="1565.5" y2="465.6" stroke="#d0d3d6" stroke-width="0.9" opacity="0.16"/>
<line x1="1512.8" y1="446.6" x2="1586.9" y2="462.9" stroke="#d0d3d6" stroke-width="0.9" opacity="0.16"/>
<line x1="1533.7" y1="443.9" x2="1608.4" y2="460.3" stroke="#d0d3d6" stroke-width="0.9" opacity="0.16"/>
<line x1="1554.6" y1="441.1" x2="1629.8" y2="457.6" stroke="#d0d3d6" stroke-width="0.9" opacity="0.16"/>
<line x1="1575.5" y1="438.4" x2="1651.3" y2="454.9" stroke="#d0d3d6" stroke-width="0.9" opacity="0.16"/>
<line x1="1596.4" y1="435.6" x2="1672.8" y2="452.2" stroke="#d0d3d6" stroke-width="0.9" opacity="0.16"/>
<polygon points="1458.2,479 1694.2,449.5 1694.2,454 1458.2,483.5" fill="#979a9c"/>
<polygon points="1458.2,483 1694.2,453.5 1694.2,461.2 1458.2,491.4" fill="#cf6917"/>
<polygon points="1458.2,484 1694.2,454.4 1694.2,455.8 1458.2,485.5" fill="#fff" opacity="0.1"/>
<polygon points="1458.2,487.6 1694.2,457.8 1694.2,458.5 1458.2,488.4" fill="#000" opacity="0.07"/>
<polygon points="1384.8,533.4 1614,499.7 1614,505.4 1384.8,540.2" fill="#cf6917"/>
<polygon points="1384.8,532.4 1614,498.7 1691.1,523 1454.9,555.8" fill="url(#sh4_3)"/>
<line x1="1405.7" y1="529.4" x2="1476.2" y2="548.3" stroke="#d0d3d6" stroke-width="0.9" opacity="0.16"/>
<line x1="1426.5" y1="526.3" x2="1497.6" y2="545.3" stroke="#d0d3d6" stroke-width="0.9" opacity="0.16"/>
<line x1="1447.3" y1="523.2" x2="1518.9" y2="542.3" stroke="#d0d3d6" stroke-width="0.9" opacity="0.16"/>
<line x1="1468.2" y1="520.2" x2="1540.2" y2="539.4" stroke="#d0d3d6" stroke-width="0.9" opacity="0.16"/>
<line x1="1489" y1="517.1" x2="1561.6" y2="536.4" stroke="#d0d3d6" stroke-width="0.9" opacity="0.16"/>
<line x1="1509.9" y1="514" x2="1582.9" y2="533.4" stroke="#d0d3d6" stroke-width="0.9" opacity="0.16"/>
<line x1="1530.7" y1="511" x2="1604.3" y2="530.4" stroke="#d0d3d6" stroke-width="0.9" opacity="0.16"/>
<line x1="1551.5" y1="507.9" x2="1625.6" y2="527.4" stroke="#d0d3d6" stroke-width="0.9" opacity="0.16"/>
<line x1="1572.4" y1="504.8" x2="1646.9" y2="524.4" stroke="#d0d3d6" stroke-width="0.9" opacity="0.16"/>
<line x1="1593.2" y1="501.8" x2="1668.3" y2="521.4" stroke="#d0d3d6" stroke-width="0.9" opacity="0.16"/>
<polygon points="1454.9,551.3 1689.6,518.5 1689.6,523 1454.9,555.8" fill="#979a9c"/>
<polygon points="1454.9,555.3 1689.6,522.5 1689.6,530.5 1454.9,563.5" fill="#cf6917"/>
<polygon points="1454.9,556.3 1689.6,523.4 1689.6,524.9 1454.9,557.8" fill="#fff" opacity="0.1"/>
<polygon points="1454.9,559.8 1689.6,526.9 1689.6,527.7 1454.9,560.6" fill="#000" opacity="0.07"/>
<polygon points="1137.5,347.3 1392.5,321.7 1392.5,327.9 1137.5,354.7" fill="#ca6514"/>
<polygon points="1137.5,346.3 1392.5,320.7 1466.2,335.1 1466,343.1 1204.8,367.4" fill="url(#sh3_0)"/>
<line x1="1160.7" y1="344" x2="1228.4" y2="360.5" stroke="#d0d3d6" stroke-width="0.9" opacity="0.16"/>
<line x1="1183.9" y1="341.7" x2="1252" y2="358.3" stroke="#d0d3d6" stroke-width="0.9" opacity="0.16"/>
<line x1="1207" y1="339.3" x2="1275.7" y2="356.1" stroke="#d0d3d6" stroke-width="0.9" opacity="0.16"/>
<line x1="1230.2" y1="337" x2="1299.3" y2="353.9" stroke="#d0d3d6" stroke-width="0.9" opacity="0.16"/>
<line x1="1253.4" y1="334.7" x2="1322.9" y2="351.7" stroke="#d0d3d6" stroke-width="0.9" opacity="0.16"/>
<line x1="1276.6" y1="332.3" x2="1346.5" y2="349.5" stroke="#d0d3d6" stroke-width="0.9" opacity="0.16"/>
<line x1="1299.8" y1="330" x2="1370.1" y2="347.3" stroke="#d0d3d6" stroke-width="0.9" opacity="0.16"/>
<line x1="1322.9" y1="327.7" x2="1393.7" y2="345.1" stroke="#d0d3d6" stroke-width="0.9" opacity="0.16"/>
<line x1="1346.1" y1="325.3" x2="1417.3" y2="342.9" stroke="#d0d3d6" stroke-width="0.9" opacity="0.16"/>
<line x1="1369.3" y1="323" x2="1440.9" y2="340.7" stroke="#d0d3d6" stroke-width="0.9" opacity="0.16"/>
<polygon points="1204.8,362.7 1464.5,338.4 1464.5,343.1 1204.8,367.4" fill="#8e9092"/>
<polygon points="1204.8,366.9 1464.5,342.6 1464.5,351.3 1204.8,376" fill="#ca6514"/>
<polygon points="1204.8,368 1464.5,343.7 1464.5,345.3 1204.8,369.6" fill="#fff" opacity="0.1"/>
<polygon points="1204.8,371.9 1464.5,347.4 1464.5,348.3 1204.8,372.8" fill="#000" opacity="0.07"/>
<polygon points="1136.2,421.2 1390,391.9 1390,397.8 1136.2,428.1" fill="#ca6514"/>
<polygon points="1136.2,420.2 1390,390.9 1462.8,410.3 1462.6,416.9 1203,444" fill="url(#sh3_1)"/>
<line x1="1159.3" y1="417.6" x2="1226.5" y2="436.8" stroke="#d0d3d6" stroke-width="0.9" opacity="0.16"/>
<line x1="1182.4" y1="414.9" x2="1249.9" y2="434.4" stroke="#d0d3d6" stroke-width="0.9" opacity="0.16"/>
<line x1="1205.4" y1="412.3" x2="1273.4" y2="431.9" stroke="#d0d3d6" stroke-width="0.9" opacity="0.16"/>
<line x1="1228.5" y1="409.6" x2="1296.9" y2="429.4" stroke="#d0d3d6" stroke-width="0.9" opacity="0.16"/>
<line x1="1251.6" y1="406.9" x2="1320.3" y2="427" stroke="#d0d3d6" stroke-width="0.9" opacity="0.16"/>
<line x1="1274.6" y1="404.3" x2="1343.8" y2="424.5" stroke="#d0d3d6" stroke-width="0.9" opacity="0.16"/>
<line x1="1297.7" y1="401.6" x2="1367.3" y2="422" stroke="#d0d3d6" stroke-width="0.9" opacity="0.16"/>
<line x1="1320.8" y1="398.9" x2="1390.7" y2="419.6" stroke="#d0d3d6" stroke-width="0.9" opacity="0.16"/>
<line x1="1343.8" y1="396.3" x2="1414.2" y2="417.1" stroke="#d0d3d6" stroke-width="0.9" opacity="0.16"/>
<line x1="1366.9" y1="393.6" x2="1437.7" y2="414.6" stroke="#d0d3d6" stroke-width="0.9" opacity="0.16"/>
<polygon points="1203,439.3 1461.1,412.2 1461.1,416.9 1203,444" fill="#979a9c"/>
<polygon points="1203,443.5 1461.1,416.4 1461.1,425.1 1203,451.9" fill="#ca6514"/>
<polygon points="1203,444.5 1461.1,417.4 1461.1,419 1203,446" fill="#fff" opacity="0.1"/>
<polygon points="1203,448.1 1461.1,421.2 1461.1,422 1203,448.9" fill="#000" opacity="0.07"/>
<polygon points="1134.9,497.2 1387.3,464.1 1387.3,470 1134.9,504.1" fill="#ca6514"/>
<polygon points="1134.9,496.2 1387.3,463.1 1459.7,479 1459.4,487.4 1201.2,520.4" fill="url(#sh3_2)"/>
<line x1="1157.9" y1="493.2" x2="1224.5" y2="512.7" stroke="#d0d3d6" stroke-width="0.9" opacity="0.16"/>
<line x1="1180.8" y1="490.2" x2="1247.9" y2="509.7" stroke="#d0d3d6" stroke-width="0.9" opacity="0.16"/>
<line x1="1203.8" y1="487.2" x2="1271.2" y2="506.7" stroke="#d0d3d6" stroke-width="0.9" opacity="0.16"/>
<line x1="1226.7" y1="484.2" x2="1294.5" y2="503.7" stroke="#d0d3d6" stroke-width="0.9" opacity="0.16"/>
<line x1="1249.7" y1="481.2" x2="1317.9" y2="500.7" stroke="#d0d3d6" stroke-width="0.9" opacity="0.16"/>
<line x1="1272.6" y1="478.1" x2="1341.2" y2="497.7" stroke="#d0d3d6" stroke-width="0.9" opacity="0.16"/>
<line x1="1295.6" y1="475.1" x2="1364.6" y2="494.7" stroke="#d0d3d6" stroke-width="0.9" opacity="0.16"/>
<line x1="1318.5" y1="472.1" x2="1387.9" y2="491.7" stroke="#d0d3d6" stroke-width="0.9" opacity="0.16"/>
<line x1="1341.4" y1="469.1" x2="1411.2" y2="488.7" stroke="#d0d3d6" stroke-width="0.9" opacity="0.16"/>
<line x1="1364.4" y1="466.1" x2="1434.6" y2="485.7" stroke="#d0d3d6" stroke-width="0.9" opacity="0.16"/>
<polygon points="1201.2,515.7 1457.9,482.7 1457.9,487.4 1201.2,520.4" fill="#979a9c"/>
<polygon points="1201.2,519.9 1457.9,486.9 1457.9,495.6 1201.2,528.4" fill="#ca6514"/>
<polygon points="1201.2,520.9 1457.9,488 1457.9,489.5 1201.2,522.5" fill="#fff" opacity="0.1"/>
<polygon points="1201.2,524.6 1457.9,491.7 1457.9,492.6 1201.2,525.4" fill="#000" opacity="0.07"/>
<polygon points="1133.7,570.1 1384.8,533.4 1384.8,539.1 1133.7,576.8" fill="#ca6514"/>
<polygon points="1133.7,569.1 1384.8,532.4 1456.4,551.3 1456.1,559.8 1199.3,597" fill="url(#sh3_3)"/>
<line x1="1156.5" y1="565.8" x2="1222.6" y2="588.9" stroke="#d0d3d6" stroke-width="0.9" opacity="0.16"/>
<line x1="1179.3" y1="562.4" x2="1245.8" y2="585.5" stroke="#d0d3d6" stroke-width="0.9" opacity="0.16"/>
<line x1="1202.2" y1="559.1" x2="1269" y2="582.2" stroke="#d0d3d6" stroke-width="0.9" opacity="0.16"/>
<line x1="1225" y1="555.8" x2="1292.2" y2="578.8" stroke="#d0d3d6" stroke-width="0.9" opacity="0.16"/>
<line x1="1247.8" y1="552.4" x2="1315.4" y2="575.4" stroke="#d0d3d6" stroke-width="0.9" opacity="0.16"/>
<line x1="1270.7" y1="549.1" x2="1338.6" y2="572" stroke="#d0d3d6" stroke-width="0.9" opacity="0.16"/>
<line x1="1293.5" y1="545.8" x2="1361.8" y2="568.6" stroke="#d0d3d6" stroke-width="0.9" opacity="0.16"/>
<line x1="1316.3" y1="542.4" x2="1385" y2="565.2" stroke="#d0d3d6" stroke-width="0.9" opacity="0.16"/>
<line x1="1339.2" y1="539.1" x2="1408.2" y2="561.8" stroke="#d0d3d6" stroke-width="0.9" opacity="0.16"/>
<line x1="1362" y1="535.8" x2="1431.4" y2="558.5" stroke="#d0d3d6" stroke-width="0.9" opacity="0.16"/>
<polygon points="1199.3,592.3 1454.6,555.1 1454.6,559.8 1199.3,597" fill="#979a9c"/>
<polygon points="1199.3,596.5 1454.6,559.3 1454.6,567.9 1199.3,604.7" fill="#ca6514"/>
<polygon points="1199.3,597.5 1454.6,560.3 1454.6,561.8 1199.3,599" fill="#fff" opacity="0.1"/>
<polygon points="1199.3,601 1454.6,564 1454.6,564.9 1199.3,601.8" fill="#000" opacity="0.07"/>
<polygon points="854.1,374.4 1137.5,347.3 1137.5,354.3 854.1,382.6" fill="#c2610f"/>
<polygon points="854.1,373.4 1137.5,346.3 1206.3,362.7 1206.2,370.8 916.3,397.6" fill="url(#sh2_0)"/>
<line x1="879.8" y1="371" x2="942.5" y2="390.2" stroke="#d0d3d6" stroke-width="0.9" opacity="0.16"/>
<line x1="905.6" y1="368.5" x2="968.7" y2="387.7" stroke="#d0d3d6" stroke-width="0.9" opacity="0.16"/>
<line x1="931.4" y1="366" x2="995" y2="385.3" stroke="#d0d3d6" stroke-width="0.9" opacity="0.16"/>
<line x1="957.1" y1="363.6" x2="1021.2" y2="382.9" stroke="#d0d3d6" stroke-width="0.9" opacity="0.16"/>
<line x1="982.9" y1="361.1" x2="1047.4" y2="380.4" stroke="#d0d3d6" stroke-width="0.9" opacity="0.16"/>
<line x1="1008.7" y1="358.6" x2="1073.6" y2="378" stroke="#d0d3d6" stroke-width="0.9" opacity="0.16"/>
<line x1="1034.4" y1="356.2" x2="1099.8" y2="375.6" stroke="#d0d3d6" stroke-width="0.9" opacity="0.16"/>
<line x1="1060.2" y1="353.7" x2="1126.1" y2="373.1" stroke="#d0d3d6" stroke-width="0.9" opacity="0.16"/>
<line x1="1086" y1="351.2" x2="1152.3" y2="370.7" stroke="#d0d3d6" stroke-width="0.9" opacity="0.16"/>
<line x1="1111.7" y1="348.8" x2="1178.5" y2="368.3" stroke="#d0d3d6" stroke-width="0.9" opacity="0.16"/>
<polygon points="916.3,392.6 1204.7,365.8 1204.7,370.8 916.3,397.6" fill="#8a8c8e"/>
<polygon points="916.3,397.1 1204.7,370.3 1204.7,379.3 916.3,407.1" fill="#c2610f"/>
<polygon points="916.3,398.3 1204.7,371.4 1204.7,373 916.3,400.1" fill="#fff" opacity="0.1"/>
<polygon points="916.3,402.6 1204.7,375.3 1204.7,376.2 916.3,403.6" fill="#000" opacity="0.07"/>
<polygon points="853.9,451.9 1136.2,421.2 1136.2,428 853.9,459.8" fill="#c2610f"/>
<polygon points="853.9,450.9 1136.2,420.2 1204.5,439.3 1204.4,447.1 916,478.7" fill="url(#sh2_1)"/>
<line x1="879.6" y1="448.1" x2="942" y2="470.8" stroke="#d0d3d6" stroke-width="0.9" opacity="0.16"/>
<line x1="905.2" y1="445.3" x2="968.1" y2="467.9" stroke="#d0d3d6" stroke-width="0.9" opacity="0.16"/>
<line x1="930.9" y1="442.5" x2="994.2" y2="465.1" stroke="#d0d3d6" stroke-width="0.9" opacity="0.16"/>
<line x1="956.6" y1="439.7" x2="1020.3" y2="462.2" stroke="#d0d3d6" stroke-width="0.9" opacity="0.16"/>
<line x1="982.2" y1="437" x2="1046.4" y2="459.3" stroke="#d0d3d6" stroke-width="0.9" opacity="0.16"/>
<line x1="1007.9" y1="434.2" x2="1072.5" y2="456.5" stroke="#d0d3d6" stroke-width="0.9" opacity="0.16"/>
<line x1="1033.6" y1="431.4" x2="1098.6" y2="453.6" stroke="#d0d3d6" stroke-width="0.9" opacity="0.16"/>
<line x1="1059.2" y1="428.6" x2="1124.6" y2="450.7" stroke="#d0d3d6" stroke-width="0.9" opacity="0.16"/>
<line x1="1084.9" y1="425.8" x2="1150.7" y2="447.9" stroke="#d0d3d6" stroke-width="0.9" opacity="0.16"/>
<line x1="1110.6" y1="423" x2="1176.8" y2="445" stroke="#d0d3d6" stroke-width="0.9" opacity="0.16"/>
<polygon points="916,473.7 1202.9,442.1 1202.9,447.1 916,478.7" fill="#939597"/>
<polygon points="916,478.2 1202.9,446.6 1202.9,455.6 916,487.9" fill="#c2610f"/>
<polygon points="916,479.4 1202.9,447.7 1202.9,449.3 916,481.1" fill="#fff" opacity="0.1"/>
<polygon points="916,483.5 1202.9,451.6 1202.9,452.5 916,484.5" fill="#000" opacity="0.07"/>
<polygon points="853.8,531.4 1134.9,497.2 1134.9,503.6 853.8,539" fill="#c2610f"/>
<polygon points="853.8,530.4 1134.9,496.2 1202.7,515.7 1202.6,523.2 915.6,558" fill="url(#sh2_2)"/>
<line x1="879.3" y1="527.3" x2="941.6" y2="549.8" stroke="#d0d3d6" stroke-width="0.9" opacity="0.16"/>
<line x1="904.9" y1="524.2" x2="967.5" y2="546.6" stroke="#d0d3d6" stroke-width="0.9" opacity="0.16"/>
<line x1="930.5" y1="521.1" x2="993.5" y2="543.5" stroke="#d0d3d6" stroke-width="0.9" opacity="0.16"/>
<line x1="956" y1="518" x2="1019.4" y2="540.3" stroke="#d0d3d6" stroke-width="0.9" opacity="0.16"/>
<line x1="981.6" y1="514.9" x2="1045.4" y2="537.2" stroke="#d0d3d6" stroke-width="0.9" opacity="0.16"/>
<line x1="1007.1" y1="511.8" x2="1071.3" y2="534" stroke="#d0d3d6" stroke-width="0.9" opacity="0.16"/>
<line x1="1032.7" y1="508.6" x2="1097.3" y2="530.9" stroke="#d0d3d6" stroke-width="0.9" opacity="0.16"/>
<line x1="1058.2" y1="505.5" x2="1123.2" y2="527.7" stroke="#d0d3d6" stroke-width="0.9" opacity="0.16"/>
<line x1="1083.8" y1="502.4" x2="1149.2" y2="524.5" stroke="#d0d3d6" stroke-width="0.9" opacity="0.16"/>
<line x1="1109.4" y1="499.3" x2="1175.1" y2="521.4" stroke="#d0d3d6" stroke-width="0.9" opacity="0.16"/>
<polygon points="915.6,553 1201.1,518.2 1201.1,523.2 915.6,558" fill="#939597"/>
<polygon points="915.6,557.5 1201.1,522.7 1201.1,532 915.6,566.7" fill="#c2610f"/>
<polygon points="915.6,558.6 1201.1,523.8 1201.1,525.5 915.6,560.2" fill="#fff" opacity="0.1"/>
<polygon points="915.6,562.5 1201.1,527.8 1201.1,528.8 915.6,563.4" fill="#000" opacity="0.07"/>
<polygon points="853.6,607.8 1133.7,570.1 1133.7,576.4 853.6,615.2" fill="#c2610f"/>
<polygon points="853.6,606.8 1133.7,569.1 1200.8,592.3 1200.7,599 915.3,636.6" fill="url(#sh2_3)"/>
<line x1="879.1" y1="603.4" x2="941.1" y2="628.2" stroke="#d0d3d6" stroke-width="0.9" opacity="0.16"/>
<line x1="904.5" y1="600" x2="966.9" y2="624.8" stroke="#d0d3d6" stroke-width="0.9" opacity="0.16"/>
<line x1="930" y1="596.6" x2="992.7" y2="621.3" stroke="#d0d3d6" stroke-width="0.9" opacity="0.16"/>
<line x1="955.5" y1="593.1" x2="1018.6" y2="617.9" stroke="#d0d3d6" stroke-width="0.9" opacity="0.16"/>
<line x1="980.9" y1="589.7" x2="1044.4" y2="614.5" stroke="#d0d3d6" stroke-width="0.9" opacity="0.16"/>
<line x1="1006.4" y1="586.3" x2="1070.2" y2="611.1" stroke="#d0d3d6" stroke-width="0.9" opacity="0.16"/>
<line x1="1031.8" y1="582.8" x2="1096" y2="607.7" stroke="#d0d3d6" stroke-width="0.9" opacity="0.16"/>
<line x1="1057.3" y1="579.4" x2="1121.8" y2="604.3" stroke="#d0d3d6" stroke-width="0.9" opacity="0.16"/>
<line x1="1082.8" y1="576" x2="1147.6" y2="600.8" stroke="#d0d3d6" stroke-width="0.9" opacity="0.16"/>
<line x1="1108.2" y1="572.5" x2="1173.4" y2="597.4" stroke="#d0d3d6" stroke-width="0.9" opacity="0.16"/>
<polygon points="915.3,631.6 1199.2,594 1199.2,599 915.3,636.6" fill="#939597"/>
<polygon points="915.3,636.1 1199.2,598.5 1199.2,607.7 915.3,645.1" fill="#c2610f"/>
<polygon points="915.3,637.2 1199.2,599.6 1199.2,601.3 915.3,638.8" fill="#fff" opacity="0.1"/>
<polygon points="915.3,641 1199.2,603.6 1199.2,604.5 915.3,641.9" fill="#000" opacity="0.07"/>
<polygon points="538.8,406.2 854.1,374.4 854.1,381.6 538.8,414.7" fill="#ae560d"/>
<polygon points="538.8,405.2 854.1,373.4 917.8,392.6 917.8,399.3 592,433" fill="url(#sh1_0)"/>
<line x1="567.4" y1="402.3" x2="621.5" y2="424.7" stroke="#d0d3d6" stroke-width="0.9" opacity="0.3"/>
<line x1="596.1" y1="399.4" x2="651" y2="421.6" stroke="#d0d3d6" stroke-width="0.9" opacity="0.3"/>
<line x1="624.8" y1="396.5" x2="680.5" y2="418.5" stroke="#d0d3d6" stroke-width="0.9" opacity="0.3"/>
<line x1="653.4" y1="393.6" x2="709.9" y2="415.5" stroke="#d0d3d6" stroke-width="0.9" opacity="0.3"/>
<line x1="682.1" y1="390.8" x2="739.4" y2="412.4" stroke="#d0d3d6" stroke-width="0.9" opacity="0.3"/>
<line x1="710.7" y1="387.9" x2="768.9" y2="409.4" stroke="#d0d3d6" stroke-width="0.9" opacity="0.3"/>
<line x1="739.4" y1="385" x2="798.4" y2="406.3" stroke="#d0d3d6" stroke-width="0.9" opacity="0.3"/>
<line x1="768.1" y1="382.1" x2="827.8" y2="403.2" stroke="#d0d3d6" stroke-width="0.9" opacity="0.3"/>
<line x1="796.7" y1="379.2" x2="857.3" y2="400.2" stroke="#d0d3d6" stroke-width="0.9" opacity="0.3"/>
<line x1="825.4" y1="376.3" x2="886.8" y2="397.1" stroke="#d0d3d6" stroke-width="0.9" opacity="0.3"/>
<polygon points="592,427.7 916.3,394 916.3,399.3 592,433" fill="#7c7e81"/>
<polygon points="592,432.5 916.3,398.8 916.3,408.8 592,442.9" fill="#ae560d"/>
<polygon points="592,433.8 916.3,400 916.3,401.8 592,435.7" fill="#fff" opacity="0.1"/>
<polygon points="592,438.3 916.3,404.3 916.3,405.3 592,439.3" fill="#000" opacity="0.07"/>
<polygon points="540.8,487.5 853.9,451.9 853.9,459.1 540.8,496" fill="#ae560d"/>
<polygon points="540.8,486.5 853.9,450.9 917.5,473.7 917.4,481 594.1,518.5" fill="url(#sh1_1)"/>
<line x1="569.3" y1="483.3" x2="623.3" y2="509.8" stroke="#d0d3d6" stroke-width="0.9" opacity="0.3"/>
<line x1="597.7" y1="480.1" x2="652.6" y2="506.4" stroke="#d0d3d6" stroke-width="0.9" opacity="0.3"/>
<line x1="626.2" y1="476.8" x2="681.8" y2="503" stroke="#d0d3d6" stroke-width="0.9" opacity="0.3"/>
<line x1="654.7" y1="473.6" x2="711.1" y2="499.6" stroke="#d0d3d6" stroke-width="0.9" opacity="0.3"/>
<line x1="683.1" y1="470.3" x2="740.4" y2="496.2" stroke="#d0d3d6" stroke-width="0.9" opacity="0.3"/>
<line x1="711.6" y1="467.1" x2="769.6" y2="492.8" stroke="#d0d3d6" stroke-width="0.9" opacity="0.3"/>
<line x1="740.1" y1="463.8" x2="798.9" y2="489.4" stroke="#d0d3d6" stroke-width="0.9" opacity="0.3"/>
<line x1="768.5" y1="460.6" x2="828.2" y2="486" stroke="#d0d3d6" stroke-width="0.9" opacity="0.3"/>
<line x1="797" y1="457.4" x2="857.4" y2="482.5" stroke="#d0d3d6" stroke-width="0.9" opacity="0.3"/>
<line x1="825.5" y1="454.1" x2="886.7" y2="479.1" stroke="#d0d3d6" stroke-width="0.9" opacity="0.3"/>
<polygon points="594.1,513.2 915.9,475.7 915.9,481 594.1,518.5" fill="#8a8c8f"/>
<polygon points="594.1,518 915.9,480.5 915.9,490.5 594.1,528.5" fill="#ae560d"/>
<polygon points="594.1,519.3 915.9,481.7 915.9,483.5 594.1,521.2" fill="#fff" opacity="0.1"/>
<polygon points="594.1,523.8 915.9,486 915.9,487 594.1,524.8" fill="#000" opacity="0.07"/>
<polygon points="542.9,571.1 853.8,531.4 853.8,538.2 542.9,579" fill="#ae560d"/>
<polygon points="542.9,570.1 853.8,530.4 917.1,553 917.1,561.1 596.1,603.1" fill="url(#sh1_2)"/>
<line x1="571.2" y1="566.5" x2="625.1" y2="594" stroke="#d0d3d6" stroke-width="0.9" opacity="0.3"/>
<line x1="599.4" y1="562.9" x2="654.2" y2="590.1" stroke="#d0d3d6" stroke-width="0.9" opacity="0.3"/>
<line x1="627.7" y1="559.3" x2="683.2" y2="586.3" stroke="#d0d3d6" stroke-width="0.9" opacity="0.3"/>
<line x1="655.9" y1="555.7" x2="712.3" y2="582.5" stroke="#d0d3d6" stroke-width="0.9" opacity="0.3"/>
<line x1="684.2" y1="552.1" x2="741.3" y2="578.7" stroke="#d0d3d6" stroke-width="0.9" opacity="0.3"/>
<line x1="712.5" y1="548.5" x2="770.4" y2="574.9" stroke="#d0d3d6" stroke-width="0.9" opacity="0.3"/>
<line x1="740.7" y1="544.9" x2="799.4" y2="571.1" stroke="#d0d3d6" stroke-width="0.9" opacity="0.3"/>
<line x1="769" y1="541.2" x2="828.5" y2="567.3" stroke="#d0d3d6" stroke-width="0.9" opacity="0.3"/>
<line x1="797.3" y1="537.6" x2="857.5" y2="563.5" stroke="#d0d3d6" stroke-width="0.9" opacity="0.3"/>
<line x1="825.5" y1="534" x2="886.6" y2="559.6" stroke="#d0d3d6" stroke-width="0.9" opacity="0.3"/>
<polygon points="596.1,597.8 915.6,555.8 915.6,561.1 596.1,603.1" fill="#8a8c8f"/>
<polygon points="596.1,602.6 915.6,560.6 915.6,570.4 596.1,612.3" fill="#ae560d"/>
<polygon points="596.1,603.7 915.6,561.8 915.6,563.6 596.1,605.5" fill="#fff" opacity="0.1"/>
<polygon points="596.1,607.9 915.6,566 915.6,567 596.1,608.9" fill="#000" opacity="0.07"/>
<polygon points="544.9,651.3 853.6,607.8 853.6,615 544.9,659.7" fill="#ae560d"/>
<polygon points="544.9,650.3 853.6,606.8 916.8,631.6 916.8,640.3 598,684" fill="url(#sh1_3)"/>
<line x1="573" y1="646.3" x2="626.8" y2="674.7" stroke="#d0d3d6" stroke-width="0.9" opacity="0.3"/>
<line x1="601.1" y1="642.4" x2="655.7" y2="670.8" stroke="#d0d3d6" stroke-width="0.9" opacity="0.3"/>
<line x1="629.1" y1="638.4" x2="684.5" y2="666.8" stroke="#d0d3d6" stroke-width="0.9" opacity="0.3"/>
<line x1="657.2" y1="634.5" x2="713.4" y2="662.8" stroke="#d0d3d6" stroke-width="0.9" opacity="0.3"/>
<line x1="685.2" y1="630.5" x2="742.2" y2="658.9" stroke="#d0d3d6" stroke-width="0.9" opacity="0.3"/>
<line x1="713.3" y1="626.6" x2="771.1" y2="654.9" stroke="#d0d3d6" stroke-width="0.9" opacity="0.3"/>
<line x1="741.4" y1="622.6" x2="799.9" y2="650.9" stroke="#d0d3d6" stroke-width="0.9" opacity="0.3"/>
<line x1="769.4" y1="618.7" x2="828.7" y2="646.9" stroke="#d0d3d6" stroke-width="0.9" opacity="0.3"/>
<line x1="797.5" y1="614.7" x2="857.6" y2="643" stroke="#d0d3d6" stroke-width="0.9" opacity="0.3"/>
<line x1="825.6" y1="610.8" x2="886.4" y2="639" stroke="#d0d3d6" stroke-width="0.9" opacity="0.3"/>
<polygon points="598,678.7 915.3,635 915.3,640.3 598,684" fill="#8a8c8f"/>
<polygon points="598,683.5 915.3,639.8 915.3,649.4 598,693.8" fill="#ae560d"/>
<polygon points="598,684.7 915.3,641 915.3,642.7 598,686.6" fill="#fff" opacity="0.1"/>
<polygon points="598,689.2 915.3,645.1 915.3,646.1 598,690.2" fill="#000" opacity="0.07"/>
<polygon points="193.4,439.5 538.8,405.2 593.5,427.7 593.6,434.2 230.4,470.2" fill="url(#sh0_0)"/>
<line x1="224.8" y1="436.4" x2="263.3" y2="461.4" stroke="#d0d3d6" stroke-width="0.9" opacity="0.45"/>
<line x1="256.2" y1="433.3" x2="296.1" y2="458.1" stroke="#d0d3d6" stroke-width="0.9" opacity="0.45"/>
<line x1="287.6" y1="430.2" x2="329" y2="454.8" stroke="#d0d3d6" stroke-width="0.9" opacity="0.45"/>
<line x1="319" y1="427" x2="361.9" y2="451.6" stroke="#d0d3d6" stroke-width="0.9" opacity="0.45"/>
<line x1="350.4" y1="423.9" x2="394.8" y2="448.3" stroke="#d0d3d6" stroke-width="0.9" opacity="0.45"/>
<line x1="381.8" y1="420.8" x2="427.7" y2="445" stroke="#d0d3d6" stroke-width="0.9" opacity="0.45"/>
<line x1="413.2" y1="417.7" x2="460.6" y2="441.8" stroke="#d0d3d6" stroke-width="0.9" opacity="0.45"/>
<line x1="444.6" y1="414.6" x2="493.5" y2="438.5" stroke="#d0d3d6" stroke-width="0.9" opacity="0.45"/>
<line x1="476" y1="411.4" x2="526.3" y2="435.2" stroke="#d0d3d6" stroke-width="0.9" opacity="0.45"/>
<line x1="507.4" y1="408.3" x2="559.2" y2="432" stroke="#d0d3d6" stroke-width="0.9" opacity="0.45"/>
<polygon points="230.4,464.7 592.1,428.7 592.1,434.2 230.4,470.2" fill="#707275"/>
<polygon points="230.4,469.7 592.1,433.7 592.1,444.7 230.4,481.5" fill="#9c4c0a"/>
<polygon points="230.4,471.1 592.1,435 592.1,437 230.4,473.2" fill="#fff" opacity="0.05"/>
<polygon points="230.4,476.2 592.1,439.7 592.1,440.8 230.4,477.3" fill="#000" opacity="0.07"/>
<polygon points="197.9,525.6 540.8,486.5 595.6,513.2 595.6,520.1 234.7,561.2" fill="url(#sh0_1)"/>
<line x1="229.1" y1="522.1" x2="267.4" y2="552" stroke="#d0d3d6" stroke-width="0.9" opacity="0.45"/>
<line x1="260.3" y1="518.5" x2="300.1" y2="548.2" stroke="#d0d3d6" stroke-width="0.9" opacity="0.45"/>
<line x1="291.4" y1="514.9" x2="332.8" y2="544.5" stroke="#d0d3d6" stroke-width="0.9" opacity="0.45"/>
<line x1="322.6" y1="511.4" x2="365.4" y2="540.8" stroke="#d0d3d6" stroke-width="0.9" opacity="0.45"/>
<line x1="353.8" y1="507.8" x2="398.1" y2="537" stroke="#d0d3d6" stroke-width="0.9" opacity="0.45"/>
<line x1="384.9" y1="504.3" x2="430.8" y2="533.3" stroke="#d0d3d6" stroke-width="0.9" opacity="0.45"/>
<line x1="416.1" y1="500.7" x2="463.5" y2="529.5" stroke="#d0d3d6" stroke-width="0.9" opacity="0.45"/>
<line x1="447.3" y1="497.2" x2="496.1" y2="525.8" stroke="#d0d3d6" stroke-width="0.9" opacity="0.45"/>
<line x1="478.5" y1="493.6" x2="528.8" y2="522" stroke="#d0d3d6" stroke-width="0.9" opacity="0.45"/>
<line x1="509.6" y1="490.1" x2="561.5" y2="518.3" stroke="#d0d3d6" stroke-width="0.9" opacity="0.45"/>
<polygon points="234.7,555.7 594.1,514.6 594.1,520.1 234.7,561.2" fill="#737578"/>
<polygon points="234.7,560.7 594.1,519.6 594.1,530.1 234.7,571.7" fill="#9c4c0a"/>
<polygon points="234.7,562 594.1,520.8 594.1,522.7 234.7,564" fill="#fff" opacity="0.05"/>
<polygon points="234.7,566.8 594.1,525.3 594.1,526.4 234.7,567.9" fill="#000" opacity="0.07"/>
<polygon points="202.5,614 542.9,570.1 597.6,597.8 597.7,605.1 239,651.2" fill="url(#sh0_2)"/>
<line x1="233.4" y1="610" x2="271.5" y2="641.5" stroke="#d0d3d6" stroke-width="0.9" opacity="0.45"/>
<line x1="264.4" y1="606" x2="304" y2="637.3" stroke="#d0d3d6" stroke-width="0.9" opacity="0.45"/>
<line x1="295.3" y1="602" x2="336.4" y2="633.1" stroke="#d0d3d6" stroke-width="0.9" opacity="0.45"/>
<line x1="326.3" y1="598" x2="368.9" y2="628.9" stroke="#d0d3d6" stroke-width="0.9" opacity="0.45"/>
<line x1="357.2" y1="594" x2="401.4" y2="624.7" stroke="#d0d3d6" stroke-width="0.9" opacity="0.45"/>
<line x1="388.2" y1="590" x2="433.8" y2="620.5" stroke="#d0d3d6" stroke-width="0.9" opacity="0.45"/>
<line x1="419.1" y1="586.1" x2="466.3" y2="616.3" stroke="#d0d3d6" stroke-width="0.9" opacity="0.45"/>
<line x1="450.1" y1="582.1" x2="498.8" y2="612.2" stroke="#d0d3d6" stroke-width="0.9" opacity="0.45"/>
<line x1="481" y1="578.1" x2="531.2" y2="608" stroke="#d0d3d6" stroke-width="0.9" opacity="0.45"/>
<line x1="512" y1="574.1" x2="563.7" y2="603.8" stroke="#d0d3d6" stroke-width="0.9" opacity="0.45"/>
<polygon points="239,645.7 596.2,599.6 596.2,605.1 239,651.2" fill="#737578"/>
<polygon points="239,650.7 596.2,604.6 596.2,615.1 239,661.2" fill="#9c4c0a"/>
<polygon points="239,652 596.2,605.8 596.2,607.7 239,653.8" fill="#fff" opacity="0.05"/>
<polygon points="239,656.5 596.2,610.4 596.2,611.4 239,657.5" fill="#000" opacity="0.07"/>
<polygon points="206.9,698.9 544.9,650.3 599.5,678.7 599.6,688.3 243.2,738.7" fill="url(#sh0_3)"/>
<line x1="237.6" y1="694.5" x2="275.5" y2="728.6" stroke="#d0d3d6" stroke-width="0.9" opacity="0.45"/>
<line x1="268.4" y1="690.1" x2="307.8" y2="724" stroke="#d0d3d6" stroke-width="0.9" opacity="0.45"/>
<line x1="299.1" y1="685.7" x2="340" y2="719.4" stroke="#d0d3d6" stroke-width="0.9" opacity="0.45"/>
<line x1="329.8" y1="681.2" x2="372.3" y2="714.9" stroke="#d0d3d6" stroke-width="0.9" opacity="0.45"/>
<line x1="360.5" y1="676.8" x2="404.6" y2="710.3" stroke="#d0d3d6" stroke-width="0.9" opacity="0.45"/>
<line x1="391.3" y1="672.4" x2="436.8" y2="705.7" stroke="#d0d3d6" stroke-width="0.9" opacity="0.45"/>
<line x1="422" y1="668" x2="469.1" y2="701.1" stroke="#d0d3d6" stroke-width="0.9" opacity="0.45"/>
<line x1="452.7" y1="663.6" x2="501.3" y2="696.6" stroke="#d0d3d6" stroke-width="0.9" opacity="0.45"/>
<line x1="483.5" y1="659.1" x2="533.6" y2="692" stroke="#d0d3d6" stroke-width="0.9" opacity="0.45"/>
<line x1="514.2" y1="654.7" x2="565.9" y2="687.4" stroke="#d0d3d6" stroke-width="0.9" opacity="0.45"/>
<polygon points="243.2,733.2 598.1,682.8 598.1,688.3 243.2,738.7" fill="#737578"/>
<polygon points="243.2,738.2 598.1,687.8 598.1,698.3 243.2,748.8" fill="#9c4c0a"/>
<polygon points="243.2,739.4 598.1,689.1 598.1,691 243.2,741.3" fill="#fff" opacity="0.05"/>
<polygon points="243.2,744 598.1,693.6 598.1,694.7 243.2,745.1" fill="#000" opacity="0.07"/>
<polygon points="1425.7,327.3 1464.7,335.1 1464.7,337.7 1425.7,329.9" fill="#f2f3f5"/>
<polygon points="1398.5,393.3 1422.8,399.8 1422.8,402.2 1398.5,395.7" fill="#cf6917"/>
<polygon points="1422.8,399.8 1461.3,410.3 1461.3,412.7 1422.8,402.2" fill="#f2f3f5"/>
<polygon points="1395.8,465 1419.9,470.4 1419.9,472.9 1395.8,467.5" fill="#cf6917"/>
<polygon points="1419.9,470.4 1458.2,479 1458.2,481.5 1419.9,472.9" fill="#f2f3f5"/>
<polygon points="1393.2,534.7 1417.1,541.1 1417.1,543.6 1393.2,537.2" fill="#cf6917"/>
<polygon points="1417.1,541.1 1454.9,551.3 1454.9,553.8 1417.1,543.6" fill="#f2f3f5"/>
<polygon points="1168.5,353.9 1204.8,362.7 1204.8,365.4 1168.5,356.6" fill="#f2f3f5"/>
<polygon points="1144.2,422.5 1166.9,429 1166.9,431.5 1144.2,425" fill="#ca6514"/>
<polygon points="1166.9,429 1203,439.3 1203,441.8 1166.9,431.5" fill="#f2f3f5"/>
<polygon points="1142.9,498.5 1165.4,505.2 1165.4,507.7 1142.9,501.1" fill="#ca6514"/>
<polygon points="1165.4,505.2 1201.2,515.7 1201.2,518.3 1165.4,507.7" fill="#f2f3f5"/>
<polygon points="1141.5,571.9 1163.9,579.8 1163.9,582.2 1141.5,574.3" fill="#ca6514"/>
<polygon points="1163.9,579.8 1199.3,592.3 1199.3,594.8 1163.9,582.2" fill="#f2f3f5"/>
<polygon points="882.7,382.2 916.3,392.6 916.3,395.6 882.7,385.2" fill="#f2f3f5"/>
<polygon points="861.4,453.6 882.5,461.4 882.5,464.3 861.4,456.5" fill="#c2610f"/>
<polygon points="882.5,461.4 916,473.7 916,476.6 882.5,464.3" fill="#f2f3f5"/>
<polygon points="861.2,533.1 882.2,540.8 882.2,543.6 861.2,535.9" fill="#c2610f"/>
<polygon points="882.2,540.8 915.6,553 915.6,555.7 882.2,543.6" fill="#f2f3f5"/>
<polygon points="861,609.8 882,618.2 882,620.9 861,612.5" fill="#c2610f"/>
<polygon points="882,618.2 915.3,631.6 915.3,634.3 882,620.9" fill="#f2f3f5"/>
<polygon points="563.3,415.6 592,427.7 592,430.9 563.3,418.7" fill="#f2f3f5"/>
<polygon points="547.2,489.7 565.3,498.8 565.3,501.9 547.2,492.9" fill="#ae560d"/>
<polygon points="565.3,498.8 594.1,513.2 594.1,516.4 565.3,501.9" fill="#f2f3f5"/>
<polygon points="549.3,573.4 567.4,582.8 567.4,585.7 549.3,576.3" fill="#ae560d"/>
<polygon points="567.4,582.8 596.1,597.8 596.1,600.7 567.4,585.7" fill="#f2f3f5"/>
<polygon points="551.3,653.7 569.3,663.4 569.3,666.5 551.3,656.8" fill="#ae560d"/>
<polygon points="569.3,663.4 598,678.7 598,681.8 569.3,666.5" fill="#f2f3f5"/>
<polygon points="191.3,447.6 209.5,457.2 197.2,458.8" fill="#a4500e"/>
<polygon points="195.9,533.1 212.9,542.1 201.4,543.6" fill="#a4500e"/>
<polygon points="200.6,621.2 216.8,629.8 205.8,631.2" fill="#a4500e"/>
<polygon points="205,706.2 221.4,714.8 210.3,716.3" fill="#a4500e"/>
<polygon points="1385.1,318.3 1388.4,318.3 1388.4,323 1385.1,323" fill="#c46a22"/>
<polygon points="1382.6,388.8 1385.8,388.8 1385.8,393.1 1382.6,393.1" fill="#c46a22"/>
<polygon points="1380.1,460.9 1383.4,460.9 1383.4,465.4 1380.1,465.4" fill="#c46a22"/>
<polygon points="1377.7,530.2 1381,530.2 1381,534.7 1377.7,534.7" fill="#c46a22"/>
<polygon points="1130.3,343.9 1133.7,343.9 1133.7,348.8 1130.3,348.8" fill="#c46a22"/>
<polygon points="1129.1,418 1132.4,418 1132.4,422.5 1129.1,422.5" fill="#c46a22"/>
<polygon points="1127.8,493.9 1131.1,493.9 1131.1,498.5 1127.8,498.5" fill="#c46a22"/>
<polygon points="1126.6,566.9 1129.9,566.9 1129.9,571.3 1126.6,571.3" fill="#c46a22"/>
<polygon points="846.2,370.7 849.9,370.7 849.9,376.1 846.2,376.1" fill="#c46a22"/>
<polygon points="846,448.2 849.7,448.2 849.7,453.5 846,453.5" fill="#c46a22"/>
<polygon points="845.8,527.9 849.3,527.9 849.3,532.9 845.8,532.9" fill="#c46a22"/>
<polygon points="845.7,604.4 849.1,604.4 849.1,609.3 845.7,609.3" fill="#c46a22"/>
<polygon points="530.5,402.4 534.4,402.4 534.4,408 530.5,408" fill="#c46a22"/>
<polygon points="532.6,483.7 536.5,483.7 536.5,489.4 532.6,489.4" fill="#c46a22"/>
<polygon points="534.8,567.4 538.4,567.4 538.4,572.7 534.8,572.7" fill="#c46a22"/>
<polygon points="536.9,647.5 540.7,647.5 540.7,653.1 536.9,653.1" fill="#c46a22"/>
<polygon points="184,433.8 226.6,449.7 226.6,455.1 184,437.1" fill="#cdd0d3"/>
<polygon points="184,436.3 226.6,453.9 226.6,455.1 184,437.1" fill="#8f9396"/>
<polygon points="538.6,397.6 591.7,414.3 591.7,421.8 538.6,403.2" fill="#cdd0d3"/>
<polygon points="538.6,402.4 591.7,420.6 591.7,421.8 538.6,403.2" fill="#8f9396"/>
<polygon points="854.1,366.2 916.3,381.5 916.3,388.7 854.1,371.5" fill="#cdd0d3"/>
<polygon points="854.1,370.7 916.3,387.5 916.3,388.7 854.1,371.5" fill="#8f9396"/>
<polygon points="1137.6,339.4 1205.1,351.7 1205.1,358.6 1137.6,344.5" fill="#cdd0d3"/>
<polygon points="1137.6,343.7 1205.1,357.4 1205.1,358.6 1137.6,344.5" fill="#8f9396"/>
<polygon points="1392.6,314.1 1465.2,324.9 1465.2,331.3 1392.6,318.9" fill="#cdd0d3"/>
<polygon points="1392.6,318.1 1465.2,330.1 1465.2,331.3 1392.6,318.9" fill="#8f9396"/>
<g mask="url(#mfront)">
<polygon points="217.3,412 232,412 251.5,816 236.5,816" fill="#1c2f93"/>
<polygon points="217.3,412 219.7,412 238.9,816 236.5,816" fill="#2c45b2"/>
<polygon points="227.6,412 232,412 251.5,816 247.1,816" fill="#182883"/>
<polygon points="223.9,411.5 228.3,411.5 227.3,414.2 224.9,414.2" fill="#fafafa"/>
<polygon points="236.5,814.2 251.5,814.2 254.7,823.6 254.7,825 233.5,825 233.5,823.6" fill="#1a2c8a"/>
<polygon points="233.5,823.2 254.7,823.2 254.7,825 233.5,825" fill="#15236e"/>
<polygon points="583.5,377 598,377 607,757 592.5,757" fill="#1e3398"/>
<polygon points="583.5,377 585.8,377 594.8,757 592.5,757" fill="#2d47b5"/>
<polygon points="593.6,377 598,377 607,757 602.6,757" fill="#1a2b88"/>
<polygon points="590,376.5 594.4,376.5 593.4,379.2 591,379.2" fill="#fafafa"/>
<polygon points="592.5,755.3 607,755.3 610,764.2 610,765.5 589.7,765.5 589.7,764.2" fill="#1a2c8a"/>
<polygon points="589.7,763.8 610,763.8 610,765.5 589.7,765.5" fill="#15236e"/>
<polygon points="909.5,346 923.5,346 922,708 908,708" fill="#1f36a2"/>
<polygon points="909.5,346 911.7,346 910.2,708 908,708" fill="#2e4abb"/>
<polygon points="919.3,346 923.5,346 922,708 917.8,708" fill="#1b2e8f"/>
<polygon points="915.8,345.5 920,345.5 919,348.2 916.8,348.2" fill="#fafafa"/>
<polygon points="908,706.4 922,706.4 924.9,714.9 924.9,716.1 905.3,716.1 905.3,714.9" fill="#1a2c8a"/>
<polygon points="905.3,714.5 924.9,714.5 924.9,716.1 905.3,716.1" fill="#15236e"/>
<polygon points="1199,318 1213,318 1204.5,662 1191,662" fill="#2139aa"/>
<polygon points="1199,318 1201.2,318 1193.2,662 1191,662" fill="#304dc0"/>
<polygon points="1208.8,318 1213,318 1204.5,662 1200.3,662" fill="#1c3196"/>
<polygon points="1205.3,317.5 1209.5,317.5 1208.5,320.2 1206.3,320.2" fill="#fafafa"/>
<polygon points="1191,660.5 1204.5,660.5 1207.2,668.5 1207.2,669.7 1188.4,669.7 1188.4,668.5" fill="#1a2c8a"/>
<polygon points="1188.4,668.1 1207.2,668.1 1207.2,669.7 1188.4,669.7" fill="#15236e"/>
<polygon points="1460,293 1473.5,293 1458.5,618 1445.5,618" fill="#233db2"/>
<polygon points="1460,293 1462.2,293 1447.7,618 1445.5,618" fill="#3251c6"/>
<polygon points="1469.5,293 1473.5,293 1458.5,618 1454.5,618" fill="#1e349d"/>
<polygon points="1466.1,292.5 1470.1,292.5 1469.2,295.2 1467,295.2" fill="#fafafa"/>
<polygon points="1445.5,616.6 1458.5,616.6 1461.1,624.2 1461.1,625.2 1443.1,625.2 1443.1,624.2" fill="#1a2c8a"/>
<polygon points="1443.1,623.8 1461.1,623.8 1461.1,625.2 1443.1,625.2" fill="#15236e"/>
</g>
<polygon points="230.2,461 236.9,461 238.5,495.6 231.9,495.6" fill="#c46c26"/>
<circle cx="234.9" cy="465" r="0.7" fill="#5e2a0e" opacity="0.8"/>
<circle cx="235.1" cy="471" r="0.7" fill="#5e2a0e" opacity="0.8"/>
<circle cx="235.4" cy="477" r="0.7" fill="#5e2a0e" opacity="0.8"/>
<circle cx="235.7" cy="483" r="0.7" fill="#5e2a0e" opacity="0.8"/>
<circle cx="236" cy="489" r="0.7" fill="#5e2a0e" opacity="0.8"/>
<polygon points="234.6,552.2 241.3,552.2 242.9,586 236.2,586" fill="#c46c26"/>
<circle cx="239.3" cy="556.2" r="0.7" fill="#5e2a0e" opacity="0.8"/>
<circle cx="239.5" cy="562.2" r="0.7" fill="#5e2a0e" opacity="0.8"/>
<circle cx="239.8" cy="568.2" r="0.7" fill="#5e2a0e" opacity="0.8"/>
<circle cx="240.1" cy="574.2" r="0.7" fill="#5e2a0e" opacity="0.8"/>
<circle cx="240.4" cy="580.2" r="0.7" fill="#5e2a0e" opacity="0.8"/>
<polygon points="238.9,641.7 245.6,641.7 247.2,675 240.5,675" fill="#c46c26"/>
<circle cx="243.6" cy="645.7" r="0.7" fill="#5e2a0e" opacity="0.8"/>
<circle cx="243.9" cy="651.7" r="0.7" fill="#5e2a0e" opacity="0.8"/>
<circle cx="244.2" cy="657.7" r="0.7" fill="#5e2a0e" opacity="0.8"/>
<circle cx="244.4" cy="663.7" r="0.7" fill="#5e2a0e" opacity="0.8"/>
<circle cx="244.7" cy="669.7" r="0.7" fill="#5e2a0e" opacity="0.8"/>
<polygon points="243.2,730 249.8,730 251.4,762 244.7,762" fill="#c46c26"/>
<circle cx="247.8" cy="734" r="0.7" fill="#5e2a0e" opacity="0.8"/>
<circle cx="248.1" cy="740" r="0.7" fill="#5e2a0e" opacity="0.8"/>
<circle cx="248.4" cy="746" r="0.7" fill="#5e2a0e" opacity="0.8"/>
<circle cx="248.7" cy="752" r="0.7" fill="#5e2a0e" opacity="0.8"/>
<circle cx="249" cy="758" r="0.7" fill="#5e2a0e" opacity="0.8"/>
<polygon points="584.9,423.9 600.3,423.9 601.1,456.1 585.7,456.1" fill="#c46c26"/>
<line x1="592.6" y1="424.9" x2="593.3" y2="455.1" stroke="#5e2a0e" stroke-width="1.5" stroke-dasharray="1.5 1.5" opacity="0.8"/>
<circle cx="589.5" cy="426.9" r="0.7" fill="#e8b48a" opacity="0.8"/>
<circle cx="589.6" cy="431.9" r="0.7" fill="#e8b48a" opacity="0.8"/>
<circle cx="589.7" cy="436.9" r="0.7" fill="#e8b48a" opacity="0.8"/>
<circle cx="589.8" cy="441.9" r="0.7" fill="#e8b48a" opacity="0.8"/>
<circle cx="589.9" cy="446.9" r="0.7" fill="#e8b48a" opacity="0.8"/>
<circle cx="590.1" cy="451.9" r="0.7" fill="#e8b48a" opacity="0.8"/>
<polygon points="586.9,508.8 602.3,508.8 603.1,542 587.7,542" fill="#c46c26"/>
<line x1="594.6" y1="509.8" x2="595.4" y2="541" stroke="#5e2a0e" stroke-width="1.5" stroke-dasharray="1.5 1.5" opacity="0.8"/>
<circle cx="591.5" cy="511.8" r="0.7" fill="#e8b48a" opacity="0.8"/>
<circle cx="591.6" cy="516.8" r="0.7" fill="#e8b48a" opacity="0.8"/>
<circle cx="591.7" cy="521.8" r="0.7" fill="#e8b48a" opacity="0.8"/>
<circle cx="591.8" cy="526.8" r="0.7" fill="#e8b48a" opacity="0.8"/>
<circle cx="592" cy="531.8" r="0.7" fill="#e8b48a" opacity="0.8"/>
<circle cx="592.1" cy="536.8" r="0.7" fill="#e8b48a" opacity="0.8"/>
<polygon points="588.9,594.3 604.3,594.3 605.1,625.4 589.7,625.4" fill="#c46c26"/>
<line x1="596.6" y1="595.3" x2="597.4" y2="624.4" stroke="#5e2a0e" stroke-width="1.5" stroke-dasharray="1.5 1.5" opacity="0.8"/>
<circle cx="593.5" cy="597.3" r="0.7" fill="#e8b48a" opacity="0.8"/>
<circle cx="593.6" cy="602.3" r="0.7" fill="#e8b48a" opacity="0.8"/>
<circle cx="593.7" cy="607.3" r="0.7" fill="#e8b48a" opacity="0.8"/>
<circle cx="593.9" cy="612.3" r="0.7" fill="#e8b48a" opacity="0.8"/>
<circle cx="594" cy="617.3" r="0.7" fill="#e8b48a" opacity="0.8"/>
<circle cx="594.1" cy="622.3" r="0.7" fill="#e8b48a" opacity="0.8"/>
<polygon points="590.9,676.5 606.3,676.5 607,707.6 591.6,707.6" fill="#c46c26"/>
<line x1="598.6" y1="677.5" x2="599.3" y2="706.6" stroke="#5e2a0e" stroke-width="1.5" stroke-dasharray="1.5 1.5" opacity="0.8"/>
<circle cx="595.4" cy="679.5" r="0.7" fill="#e8b48a" opacity="0.8"/>
<circle cx="595.6" cy="684.5" r="0.7" fill="#e8b48a" opacity="0.8"/>
<circle cx="595.7" cy="689.5" r="0.7" fill="#e8b48a" opacity="0.8"/>
<circle cx="595.8" cy="694.5" r="0.7" fill="#e8b48a" opacity="0.8"/>
<circle cx="595.9" cy="699.5" r="0.7" fill="#e8b48a" opacity="0.8"/>
<circle cx="596" cy="704.5" r="0.7" fill="#e8b48a" opacity="0.8"/>
<polygon points="909.6,390.1 924.5,390.1 924.4,420.7 909.5,420.7" fill="#c46c26"/>
<line x1="917" y1="391.1" x2="916.9" y2="419.7" stroke="#5e2a0e" stroke-width="1.4" stroke-dasharray="1.5 1.5" opacity="0.8"/>
<circle cx="913.9" cy="393.1" r="0.7" fill="#e8b48a" opacity="0.8"/>
<circle cx="913.9" cy="398.1" r="0.7" fill="#e8b48a" opacity="0.8"/>
<circle cx="913.9" cy="403.1" r="0.7" fill="#e8b48a" opacity="0.8"/>
<circle cx="913.9" cy="408.1" r="0.7" fill="#e8b48a" opacity="0.8"/>
<circle cx="913.8" cy="413.1" r="0.7" fill="#e8b48a" opacity="0.8"/>
<circle cx="913.8" cy="418.1" r="0.7" fill="#e8b48a" opacity="0.8"/>
<polygon points="909.3,471.4 924.2,471.4 924.1,501.2 909.2,501.2" fill="#c46c26"/>
<line x1="916.7" y1="472.4" x2="916.6" y2="500.2" stroke="#5e2a0e" stroke-width="1.4" stroke-dasharray="1.5 1.5" opacity="0.8"/>
<circle cx="913.6" cy="474.4" r="0.7" fill="#e8b48a" opacity="0.8"/>
<circle cx="913.6" cy="479.4" r="0.7" fill="#e8b48a" opacity="0.8"/>
<circle cx="913.5" cy="484.4" r="0.7" fill="#e8b48a" opacity="0.8"/>
<circle cx="913.5" cy="489.4" r="0.7" fill="#e8b48a" opacity="0.8"/>
<circle cx="913.5" cy="494.4" r="0.7" fill="#e8b48a" opacity="0.8"/>
<polygon points="909,551.1 923.9,551.1 923.7,581 908.8,581" fill="#c46c26"/>
<line x1="916.4" y1="552.1" x2="916.2" y2="580" stroke="#5e2a0e" stroke-width="1.4" stroke-dasharray="1.5 1.5" opacity="0.8"/>
<circle cx="913.3" cy="554.1" r="0.7" fill="#e8b48a" opacity="0.8"/>
<circle cx="913.2" cy="559.1" r="0.7" fill="#e8b48a" opacity="0.8"/>
<circle cx="913.2" cy="564.1" r="0.7" fill="#e8b48a" opacity="0.8"/>
<circle cx="913.2" cy="569.1" r="0.7" fill="#e8b48a" opacity="0.8"/>
<circle cx="913.2" cy="574.1" r="0.7" fill="#e8b48a" opacity="0.8"/>
<polygon points="908.6,630.3 923.5,630.3 923.4,659.4 908.5,659.4" fill="#c46c26"/>
<line x1="916" y1="631.3" x2="915.9" y2="658.4" stroke="#5e2a0e" stroke-width="1.4" stroke-dasharray="1.5 1.5" opacity="0.8"/>
<circle cx="912.9" cy="633.3" r="0.7" fill="#e8b48a" opacity="0.8"/>
<circle cx="912.9" cy="638.3" r="0.7" fill="#e8b48a" opacity="0.8"/>
<circle cx="912.9" cy="643.3" r="0.7" fill="#e8b48a" opacity="0.8"/>
<circle cx="912.9" cy="648.3" r="0.7" fill="#e8b48a" opacity="0.8"/>
<circle cx="912.8" cy="653.3" r="0.7" fill="#e8b48a" opacity="0.8"/>
<polygon points="1198.3,360.1 1213.2,360.1 1212.4,389.3 1197.6,389.3" fill="#c46c26"/>
<line x1="1205.7" y1="361.1" x2="1205" y2="388.3" stroke="#5e2a0e" stroke-width="1.4" stroke-dasharray="1.5 1.5" opacity="0.8"/>
<circle cx="1202.5" cy="363.1" r="0.7" fill="#e8b48a" opacity="0.8"/>
<circle cx="1202.4" cy="368.1" r="0.7" fill="#e8b48a" opacity="0.8"/>
<circle cx="1202.3" cy="373.1" r="0.7" fill="#e8b48a" opacity="0.8"/>
<circle cx="1202.2" cy="378.1" r="0.7" fill="#e8b48a" opacity="0.8"/>
<circle cx="1202.1" cy="383.1" r="0.7" fill="#e8b48a" opacity="0.8"/>
<polygon points="1196.5,437.2 1211.3,437.2 1210.6,465.7 1195.9,465.7" fill="#c46c26"/>
<line x1="1203.8" y1="438.2" x2="1203.2" y2="464.7" stroke="#5e2a0e" stroke-width="1.4" stroke-dasharray="1.5 1.5" opacity="0.8"/>
<circle cx="1200.7" cy="440.2" r="0.7" fill="#e8b48a" opacity="0.8"/>
<circle cx="1200.6" cy="445.2" r="0.7" fill="#e8b48a" opacity="0.8"/>
<circle cx="1200.5" cy="450.2" r="0.7" fill="#e8b48a" opacity="0.8"/>
<circle cx="1200.4" cy="455.2" r="0.7" fill="#e8b48a" opacity="0.8"/>
<circle cx="1200.2" cy="460.2" r="0.7" fill="#e8b48a" opacity="0.8"/>
<polygon points="1194.8,512.2 1209.4,512.2 1208.7,541.4 1194.1,541.4" fill="#c46c26"/>
<line x1="1202" y1="513.2" x2="1201.3" y2="540.4" stroke="#5e2a0e" stroke-width="1.4" stroke-dasharray="1.5 1.5" opacity="0.8"/>
<circle cx="1198.9" cy="515.2" r="0.7" fill="#e8b48a" opacity="0.8"/>
<circle cx="1198.8" cy="520.2" r="0.7" fill="#e8b48a" opacity="0.8"/>
<circle cx="1198.7" cy="525.2" r="0.7" fill="#e8b48a" opacity="0.8"/>
<circle cx="1198.6" cy="530.2" r="0.7" fill="#e8b48a" opacity="0.8"/>
<circle cx="1198.5" cy="535.2" r="0.7" fill="#e8b48a" opacity="0.8"/>
<polygon points="1193,587.2 1207.5,587.2 1206.8,615.7 1192.4,615.7" fill="#c46c26"/>
<line x1="1200.2" y1="588.2" x2="1199.6" y2="614.7" stroke="#5e2a0e" stroke-width="1.4" stroke-dasharray="1.5 1.5" opacity="0.8"/>
<circle cx="1197.2" cy="590.2" r="0.7" fill="#e8b48a" opacity="0.8"/>
<circle cx="1197" cy="595.2" r="0.7" fill="#e8b48a" opacity="0.8"/>
<circle cx="1196.9" cy="600.2" r="0.7" fill="#e8b48a" opacity="0.8"/>
<circle cx="1196.8" cy="605.2" r="0.7" fill="#e8b48a" opacity="0.8"/>
<circle cx="1196.7" cy="610.2" r="0.7" fill="#e8b48a" opacity="0.8"/>
<polygon points="1458.5,333.6 1472.8,333.6 1471.6,360.7 1457.3,360.7" fill="#c46c26"/>
<line x1="1465.6" y1="334.6" x2="1464.4" y2="359.7" stroke="#5e2a0e" stroke-width="1.3" stroke-dasharray="1.5 1.5" opacity="0.8"/>
<circle cx="1462.5" cy="336.6" r="0.7" fill="#e8b48a" opacity="0.8"/>
<circle cx="1462.3" cy="341.6" r="0.7" fill="#e8b48a" opacity="0.8"/>
<circle cx="1462" cy="346.6" r="0.7" fill="#e8b48a" opacity="0.8"/>
<circle cx="1461.8" cy="351.6" r="0.7" fill="#e8b48a" opacity="0.8"/>
<circle cx="1461.6" cy="356.6" r="0.7" fill="#e8b48a" opacity="0.8"/>
<polygon points="1455.3,405.8 1469.5,405.8 1468.2,433.6 1454,433.6" fill="#c46c26"/>
<line x1="1462.3" y1="406.8" x2="1461.1" y2="432.6" stroke="#5e2a0e" stroke-width="1.3" stroke-dasharray="1.5 1.5" opacity="0.8"/>
<circle cx="1459.2" cy="408.8" r="0.7" fill="#e8b48a" opacity="0.8"/>
<circle cx="1459" cy="413.8" r="0.7" fill="#e8b48a" opacity="0.8"/>
<circle cx="1458.8" cy="418.8" r="0.7" fill="#e8b48a" opacity="0.8"/>
<circle cx="1458.6" cy="423.8" r="0.7" fill="#e8b48a" opacity="0.8"/>
<circle cx="1458.3" cy="428.8" r="0.7" fill="#e8b48a" opacity="0.8"/>
<polygon points="1452,478.8 1466.1,478.8 1464.9,505.8 1450.8,505.8" fill="#c46c26"/>
<line x1="1459" y1="479.8" x2="1457.8" y2="504.8" stroke="#5e2a0e" stroke-width="1.3" stroke-dasharray="1.5 1.5" opacity="0.8"/>
<circle cx="1455.9" cy="481.8" r="0.7" fill="#e8b48a" opacity="0.8"/>
<circle cx="1455.7" cy="486.8" r="0.7" fill="#e8b48a" opacity="0.8"/>
<circle cx="1455.5" cy="491.8" r="0.7" fill="#e8b48a" opacity="0.8"/>
<circle cx="1455.3" cy="496.8" r="0.7" fill="#e8b48a" opacity="0.8"/>
<circle cx="1455" cy="501.8" r="0.7" fill="#e8b48a" opacity="0.8"/>
<polygon points="1448.8,550.3 1462.8,550.3 1461.6,576.7 1447.6,576.7" fill="#c46c26"/>
<line x1="1455.7" y1="551.3" x2="1454.5" y2="575.7" stroke="#5e2a0e" stroke-width="1.3" stroke-dasharray="1.5 1.5" opacity="0.8"/>
<circle cx="1452.7" cy="553.3" r="0.7" fill="#e8b48a" opacity="0.8"/>
<circle cx="1452.5" cy="558.3" r="0.7" fill="#e8b48a" opacity="0.8"/>
<circle cx="1452.3" cy="563.3" r="0.7" fill="#e8b48a" opacity="0.8"/>
<circle cx="1452" cy="568.3" r="0.7" fill="#e8b48a" opacity="0.8"/>
<circle cx="1451.8" cy="573.3" r="0.7" fill="#e8b48a" opacity="0.8"/>
<rect x="1510" y="250" width="56" height="400" fill="url(#fadeR)"/>
<rect x="1565.5" y="250" width="70" height="400" fill="#fafafa"/>
<line x1="77.2" y1="393.4" x2="77.2" y2="786" stroke="#0e2c8c" stroke-width="3.2"/>
<line x1="67" y1="393.4" x2="87.2" y2="393.4" stroke="#0e2c8c" stroke-width="3.2"/>
<line x1="67" y1="786" x2="87.2" y2="786" stroke="#0e2c8c" stroke-width="3.2"/>
<line x1="91.3" y1="391.9" x2="170" y2="391.9" stroke="#f76e0a" stroke-width="3.5" stroke-dasharray="11.7 4.3"/>
<line x1="90" y1="787.6" x2="186" y2="787.6" stroke="#f76e0a" stroke-width="3.5" stroke-dasharray="11.7 4.3"/>
<line x1="124.3" y1="862.2" x2="165.7" y2="900.7" stroke="#0e2c8c" stroke-width="3.2"/>
<line x1="117.6" y1="867.4" x2="130.2" y2="854.8" stroke="#0e2c8c" stroke-width="3.2"/>
<line x1="159.1" y1="908.9" x2="172.4" y2="896.3" stroke="#0e2c8c" stroke-width="3.2"/>
<line x1="190.2" y1="791.1" x2="129.4" y2="852.6" stroke="#f76e0a" stroke-width="3.4" stroke-dasharray="11 5"/>
<line x1="234.6" y1="827.4" x2="173.9" y2="897" stroke="#f76e0a" stroke-width="3.4" stroke-dasharray="11 5"/>
<line x1="279" y1="887.5" x2="615.5" y2="832.5" stroke="#0e2c8c" stroke-width="3.2"/>
<line x1="274.1" y1="875.2" x2="283.9" y2="899.8" stroke="#0e2c8c" stroke-width="4.2"/>
<line x1="610.6" y1="820.2" x2="620.4" y2="844.8" stroke="#0e2c8c" stroke-width="4.2"/>
<line x1="635.5" y1="826.5" x2="931" y2="780.5" stroke="#0e2c8c" stroke-width="3.2"/>
<line x1="630.6" y1="814.2" x2="640.4" y2="838.8" stroke="#0e2c8c" stroke-width="4.2"/>
<line x1="926.1" y1="768.2" x2="935.9" y2="792.8" stroke="#0e2c8c" stroke-width="4.2"/>
<line x1="950.3" y1="775.5" x2="1213" y2="735" stroke="#0e2c8c" stroke-width="3.2"/>
<line x1="945.4" y1="763.2" x2="955.2" y2="787.8" stroke="#0e2c8c" stroke-width="4.2"/>
<line x1="1208.1" y1="722.7" x2="1217.9" y2="747.3" stroke="#0e2c8c" stroke-width="4.2"/>
<line x1="1233.2" y1="729.5" x2="1470" y2="690.5" stroke="#0e2c8c" stroke-width="3.2"/>
<line x1="1228.3" y1="717.2" x2="1238.1" y2="741.8" stroke="#0e2c8c" stroke-width="4.2"/>
<line x1="1465.1" y1="678.2" x2="1474.9" y2="702.8" stroke="#0e2c8c" stroke-width="4.2"/>
<line x1="1481" y1="686" x2="1550" y2="675" stroke="url(#fadeNavy)" stroke-width="3.2"/>
<line x1="1476.1" y1="673.7" x2="1485.9" y2="698.3" stroke="#0e2c8c" stroke-width="4.2"/>
<line x1="286.4" y1="968.6" x2="1535" y2="770.3" stroke="url(#fadeNavy2)" stroke-width="3.2"/>
<line x1="280.6" y1="954" x2="292.2" y2="983.2" stroke="#0e2c8c" stroke-width="4.2"/>
<line x1="238" y1="832" x2="281" y2="951" stroke="#f76e0a" stroke-width="3.4" stroke-dasharray="11.5 4.5"/>
<line x1="255.5" y1="827" x2="273" y2="874" stroke="#f76e0a" stroke-width="3.4" stroke-dasharray="11.5 4.5"/>
<line x1="593" y1="770" x2="612" y2="818" stroke="#f76e0a" stroke-width="3.4" stroke-dasharray="11.5 4.5"/>
<line x1="609" y1="767" x2="628" y2="813" stroke="#f76e0a" stroke-width="3.4" stroke-dasharray="11.5 4.5"/>
<line x1="910" y1="716" x2="927" y2="764" stroke="#f76e0a" stroke-width="3.4" stroke-dasharray="11.5 4.5"/>
<line x1="926" y1="713" x2="944" y2="760" stroke="#f76e0a" stroke-width="3.4" stroke-dasharray="11.5 4.5"/>
<line x1="1193" y1="670" x2="1209" y2="719" stroke="#f76e0a" stroke-width="3.4" stroke-dasharray="11.5 4.5"/>
<line x1="1208" y1="668" x2="1226" y2="715" stroke="#f76e0a" stroke-width="3.4" stroke-dasharray="11.5 4.5"/>
<line x1="1449" y1="629" x2="1465" y2="676" stroke="#f76e0a" stroke-width="3.4" stroke-dasharray="11.5 4.5"/>
<line x1="1462" y1="627" x2="1476" y2="670" stroke="#f76e0a" stroke-width="3.4" stroke-dasharray="11.5 4.5"/>
<text x="0" y="0" transform="translate(400 894.6) rotate(-9.6)" font-family="&quot;Liberation Sans&quot;, sans-serif" font-weight="bold" font-size="25" fill="#0e2c8c" stroke="#0e2c8c" stroke-width="1.1" stroke-linejoin="round" textLength="100.5" lengthAdjust="spacingAndGlyphs">270cm</text>
<text x="0" y="0" transform="translate(737.3 836.9) rotate(-9.7)" font-family="&quot;Liberation Sans&quot;, sans-serif" font-weight="bold" font-size="25" fill="#0e2c8c" stroke="#0e2c8c" stroke-width="1.1" stroke-linejoin="round" textLength="100.5" lengthAdjust="spacingAndGlyphs">270cm</text>
<text x="0" y="0" transform="translate(1037.3 789.5) rotate(-9.7)" font-family="&quot;Liberation Sans&quot;, sans-serif" font-weight="bold" font-size="25" fill="#0e2c8c" stroke="#0e2c8c" stroke-width="1.1" stroke-linejoin="round" textLength="100.5" lengthAdjust="spacingAndGlyphs">270cm</text>
<text x="0" y="0" transform="translate(1305.6 745.5) rotate(-9.3)" font-family="&quot;Liberation Sans&quot;, sans-serif" font-weight="bold" font-size="25" fill="#0e2c8c" stroke="#0e2c8c" stroke-width="1.1" stroke-linejoin="round" textLength="100.5" lengthAdjust="spacingAndGlyphs">270cm</text>
<text x="0" y="0" transform="translate(889 914.5) rotate(-9.4)" font-family="&quot;Liberation Sans&quot;, sans-serif" font-weight="bold" font-size="39" fill="#0e2c8c" stroke="#0e2c8c" stroke-width="1.6" stroke-linejoin="round" textLength="173" lengthAdjust="spacingAndGlyphs">4490cm</text>
<text x="0" y="0" transform="translate(65 664.5) rotate(-90)" font-family="&quot;Liberation Sans&quot;, sans-serif" font-weight="bold" font-size="38" fill="#0e2c8c" stroke="#0e2c8c" stroke-width="2" stroke-linejoin="round" textLength="146.5" lengthAdjust="spacingAndGlyphs">750cm</text>
<text x="0" y="0" transform="translate(94.5 870.5) rotate(44)" font-family="&quot;Liberation Sans&quot;, sans-serif" font-weight="bold" font-size="19" fill="#0e2c8c" stroke="#0e2c8c" stroke-width="0.9" stroke-linejoin="round" textLength="86" lengthAdjust="spacingAndGlyphs">105cm</text></g></svg></body></html>
